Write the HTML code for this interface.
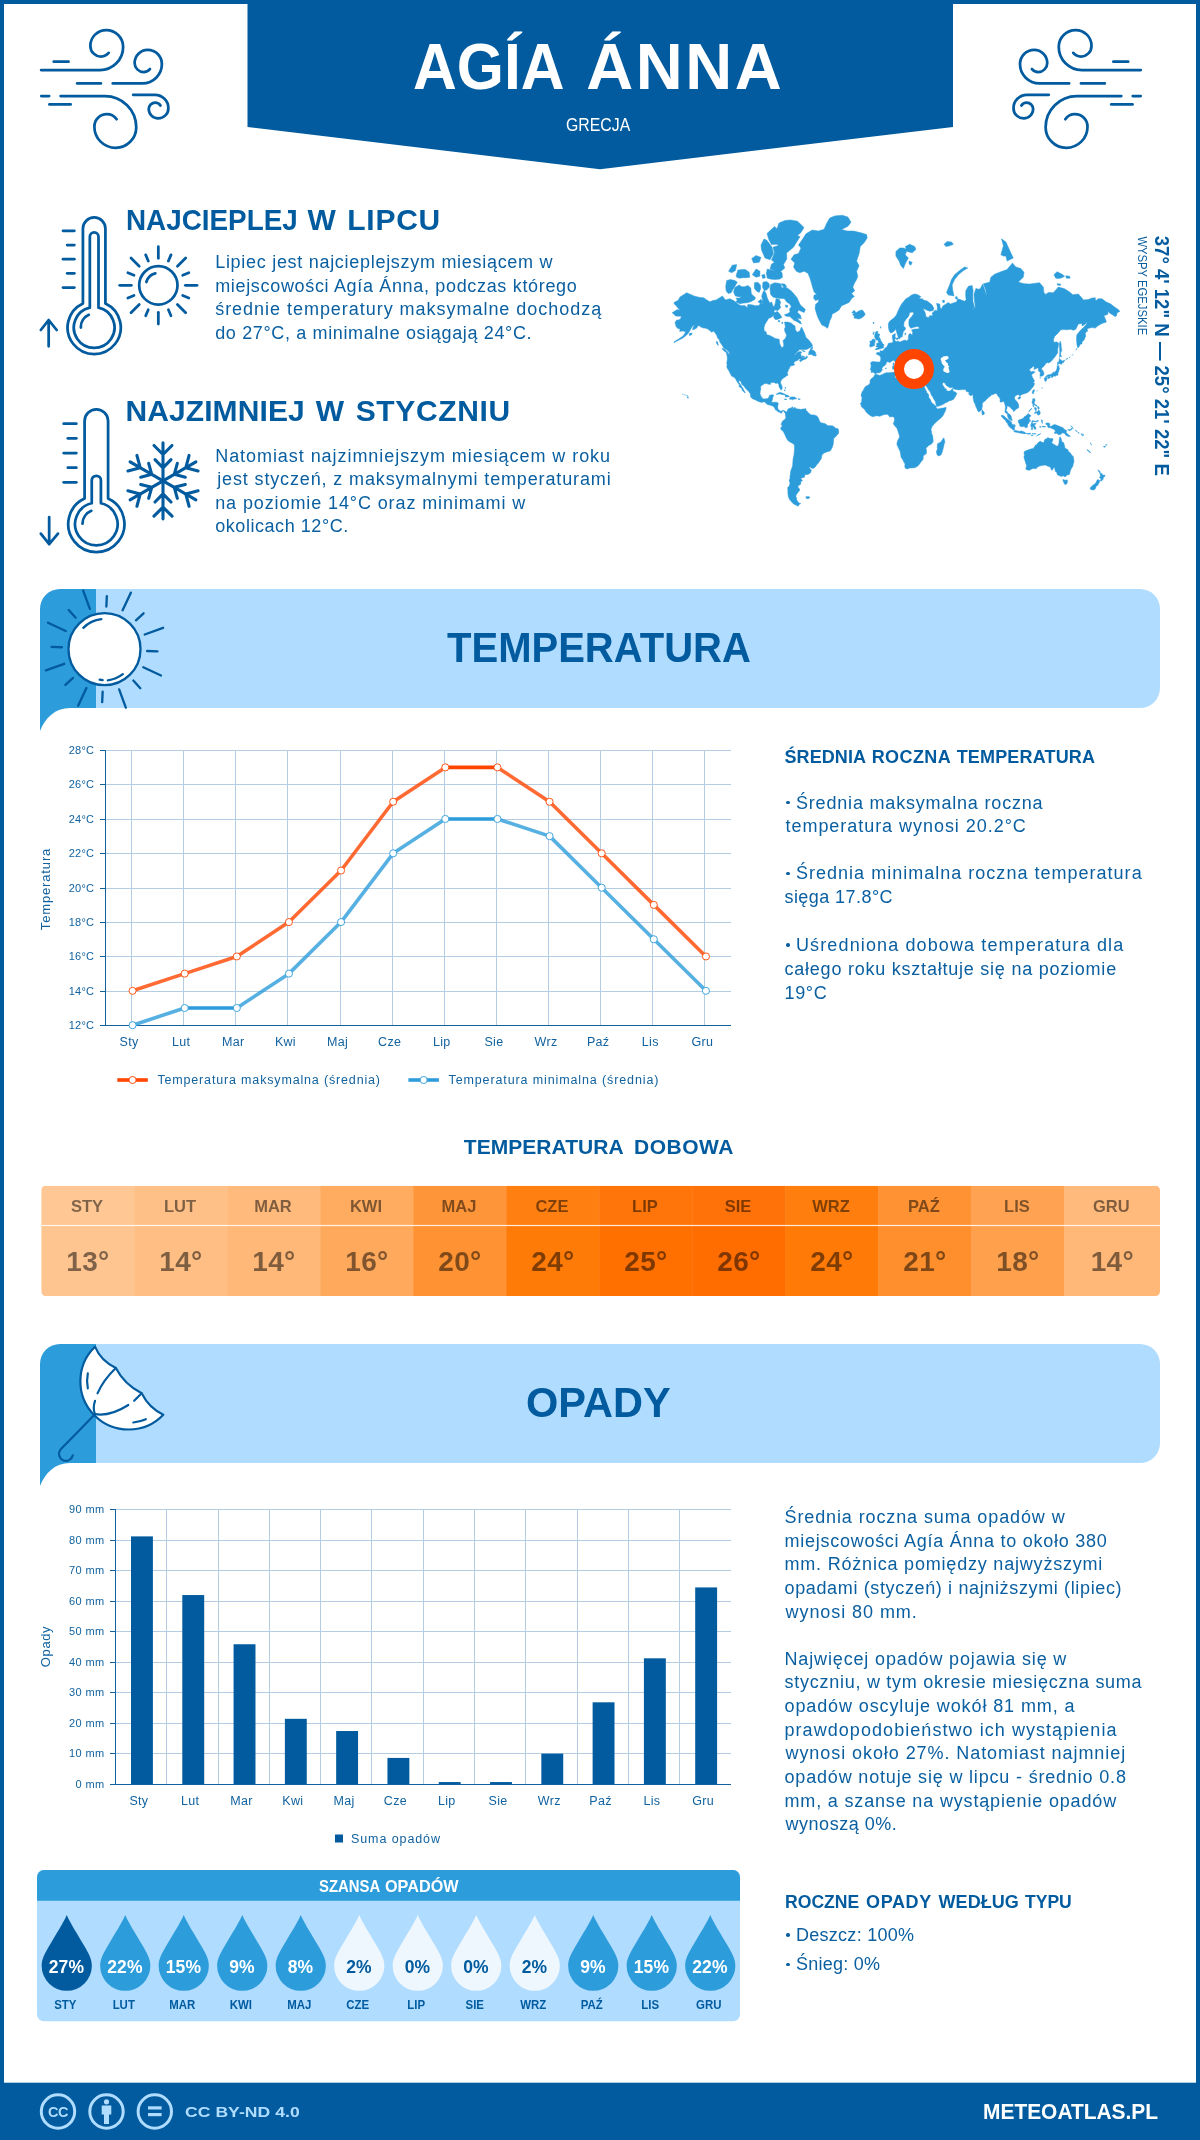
<!DOCTYPE html>
<html lang="pl"><head><meta charset="utf-8"><title>Agía Ánna – pogoda i klimat</title>
<style>
*{margin:0;padding:0;box-sizing:border-box}
html,body{width:1200px;height:2140px;background:#fff;overflow:hidden}
body{font-family:"Liberation Sans", sans-serif;position:relative}
#page{position:absolute;left:0;top:0;width:1200px;height:2140px;border:4px solid #015b9e;border-top-width:4px;overflow:hidden;background:#fff}
.abs{position:absolute}
.t{position:absolute;white-space:nowrap;line-height:1;font-family:"Liberation Sans", sans-serif}
svg{position:absolute;left:0;top:0;overflow:visible}
</style></head>
<body>
<div id="frame" style="position:absolute;left:0;top:0;width:1200px;height:2140px;overflow:hidden;will-change:transform;transform:translateZ(0)">
<svg width="1200" height="2140" viewBox="0 0 1200 2140">
<!-- page border -->
<rect x="0" y="0" width="1200" height="4" fill="#015b9e"/>
<rect x="0" y="0" width="4" height="2140" fill="#015b9e"/>
<rect x="1196" y="0" width="4" height="2140" fill="#015b9e"/>
<!-- title banner -->
<polygon points="247.5,0 953,0 953,127 600,169.2 247.5,127" fill="#015b9e"/>
<!-- temperatura header -->
<path d="M40,731 L40,609 a20,20 0 0 1 20,-20 L96,589 L96,708 L70,708 C55,708 45,718 40,731 Z" fill="#2d9cdb"/>
<path d="M96,589 L1140,589 a20,20 0 0 1 20,20 L1160,688 a20,20 0 0 1 -20,20 L96,708 Z" fill="#b0dcff"/>
<!-- opady header -->
<path d="M40,1486 L40,1364 a20,20 0 0 1 20,-20 L96,1344 L96,1463 L70,1463 C55,1463 45,1473 40,1486 Z" fill="#2d9cdb"/>
<path d="M96,1344 L1140,1344 a20,20 0 0 1 20,20 L1160,1443 a20,20 0 0 1 -20,20 L96,1463 Z" fill="#b0dcff"/>
<!-- footer -->
<rect x="0" y="2082.7" width="1200" height="58" fill="#015b9e"/>
</svg>

<svg width="1200" height="2140" viewBox="0 0 1200 2140">
<path d="M672.2,312.7 L674.9,310.9 L677.6,309.6 L680.1,310.6 L678.0,308.0 L675.5,305.1 L673.9,303.7 L674.6,302.0 L678.0,300.6 L680.0,297.0 L683.6,294.7 L686.7,292.8 L691.1,294.7 L694.9,296.3 L699.8,297.4 L703.6,297.7 L706.1,299.6 L709.8,301.7 L713.0,300.6 L716.1,299.9 L719.8,297.7 L722.3,295.9 L725.5,299.9 L729.8,298.8 L733.6,300.6 L738.6,304.4 L741.1,305.7 L744.8,305.4 L747.3,307.7 L747.9,304.4 L751.7,304.8 L755.4,305.7 L759.2,305.4 L760.4,303.1 L762.5,303.4 L762.5,299.6 L761.7,296.3 L762.9,292.4 L764.2,290.4 L766.0,293.2 L767.3,298.1 L768.5,300.6 L769.8,303.1 L771.7,302.0 L772.9,305.7 L774.2,306.7 L775.4,302.7 L776.0,298.8 L779.2,299.2 L780.7,302.4 L779.8,305.1 L780.7,307.4 L777.9,310.6 L775.4,309.9 L773.8,310.9 L774.8,313.9 L772.9,316.0 L771.0,317.4 L768.5,318.5 L766.7,321.6 L765.0,324.2 L764.0,327.6 L764.2,331.0 L766.0,331.7 L766.8,334.8 L769.2,335.2 L772.3,336.8 L775.4,338.6 L779.2,339.3 L779.5,342.9 L780.4,345.4 L781.7,347.4 L783.5,347.0 L783.8,344.0 L782.9,340.8 L785.4,338.2 L786.7,335.2 L785.0,331.7 L784.4,329.3 L785.4,326.8 L784.5,322.1 L787.9,322.1 L791.0,322.9 L793.5,325.0 L795.0,326.0 L795.4,329.8 L797.3,332.2 L799.8,331.0 L801.0,328.1 L801.6,327.0 L803.3,330.5 L804.8,334.1 L806.0,337.5 L808.5,339.7 L810.4,341.9 L812.0,344.4 L812.5,346.0 L810.8,347.2 L808.5,348.4 L806.6,349.6 L803.5,349.4 L799.8,349.6 L797.9,351.3 L795.4,353.8 L793.8,355.8 L795.4,354.5 L797.3,352.5 L799.8,351.5 L801.8,352.1 L800.6,353.8 L801.0,355.3 L801.5,356.9 L802.9,357.6 L805.4,357.8 L806.9,355.8 L807.5,357.4 L805.8,358.9 L802.9,359.9 L800.4,361.8 L799.4,360.6 L801.6,358.7 L800.4,358.9 L798.5,359.0 L798.3,359.9 L796.0,361.0 L794.4,361.8 L793.8,363.6 L794.8,364.7 L792.9,365.4 L790.4,366.1 L789.8,366.9 L789.5,368.4 L788.5,369.3 L788.2,370.9 L787.3,372.5 L787.5,374.0 L787.9,375.3 L786.4,376.0 L784.8,377.2 L783.2,378.3 L781.7,379.6 L780.7,381.5 L780.5,382.7 L781.5,385.1 L782.3,387.5 L781.9,389.6 L780.9,389.8 L780.0,388.4 L778.9,386.3 L778.8,384.4 L777.5,383.0 L775.7,383.4 L774.2,382.4 L772.0,382.6 L770.5,382.8 L770.7,384.3 L768.8,384.3 L766.7,383.6 L764.8,383.4 L763.3,384.4 L761.3,385.8 L760.5,387.0 L760.8,388.9 L760.2,391.4 L760.0,393.7 L760.8,395.7 L762.0,397.9 L763.8,399.0 L766.0,398.8 L767.9,398.5 L769.0,397.1 L769.3,395.5 L771.7,394.8 L773.7,394.9 L772.9,397.1 L772.5,399.0 L771.9,401.3 L771.2,402.3 L772.9,402.3 L775.4,402.2 L777.3,402.4 L778.3,403.3 L777.9,405.5 L777.7,407.7 L778.3,409.4 L779.8,410.8 L781.0,411.3 L782.5,410.5 L784.0,410.5 L785.5,411.5 L785.3,412.8 L784.4,412.3 L783.8,411.1 L782.8,411.1 L781.9,412.0 L782.0,412.9 L781.0,413.2 L780.0,412.3 L778.5,411.9 L777.7,411.5 L776.3,410.1 L775.2,409.7 L775.0,408.5 L774.0,407.2 L772.8,405.9 L771.7,405.7 L769.8,405.0 L767.9,404.8 L766.7,403.9 L764.8,402.1 L763.3,401.9 L761.5,402.4 L759.2,401.7 L757.3,400.9 L755.1,399.7 L752.9,398.9 L751.3,397.7 L750.3,396.3 L750.7,394.8 L749.8,393.0 L748.6,391.4 L746.7,389.6 L745.6,388.4 L744.4,386.8 L743.6,385.8 L741.9,384.6 L741.2,382.6 L740.6,381.1 L738.8,380.4 L738.9,382.3 L740.2,384.1 L741.3,385.8 L742.3,387.5 L743.3,388.9 L744.1,390.7 L745.3,392.4 L744.8,392.9 L743.8,391.7 L742.3,390.6 L741.9,388.7 L740.4,387.5 L738.8,386.3 L739.6,385.1 L738.3,383.6 L737.3,382.1 L736.4,380.4 L735.7,378.9 L734.3,377.4 L732.9,376.6 L731.6,376.2 L730.8,374.5 L729.8,372.8 L729.1,371.1 L727.7,369.0 L726.8,367.1 L727.1,364.4 L726.7,362.9 L727.3,360.1 L727.3,356.9 L726.4,353.0 L728.6,353.4 L729.2,355.1 L729.3,352.8 L728.3,351.3 L726.3,349.6 L723.8,348.2 L722.6,346.0 L721.3,344.0 L719.8,341.9 L719.2,339.7 L717.6,337.9 L716.7,335.2 L715.1,332.9 L713.6,331.0 L711.7,332.2 L709.8,330.5 L707.3,328.8 L704.8,328.1 L702.3,327.8 L699.8,326.3 L698.0,325.5 L696.7,328.1 L694.9,329.0 L692.6,330.0 L693.1,327.3 L694.9,325.0 L692.6,326.0 L691.1,328.6 L689.6,331.0 L688.0,333.6 L685.5,335.9 L683.0,337.9 L680.5,339.3 L678.2,340.4 L676.0,341.4 L674.1,342.7 L673.9,342.1 L676.1,340.4 L678.0,339.5 L680.5,337.7 L682.4,336.4 L684.2,334.5 L685.7,331.5 L683.9,331.2 L681.7,331.0 L679.7,331.5 L680.1,329.0 L678.0,328.6 L676.1,326.8 L675.6,324.2 L674.9,322.9 L676.4,320.2 L678.6,319.9 L680.7,318.8 L681.2,316.0 L678.9,316.2 L675.6,316.0 L673.9,314.2Z M785.5,411.5 L786.3,412.3 L787.5,410.5 L787.9,409.1 L789.1,408.5 L791.0,408.0 L792.6,406.7 L793.1,407.7 L792.4,408.7 L793.0,408.6 L794.5,407.8 L794.9,407.1 L795.1,407.8 L796.9,408.9 L798.8,409.0 L801.0,409.6 L802.5,409.0 L804.8,408.9 L805.8,410.1 L807.3,411.6 L809.1,413.5 L811.0,414.9 L813.5,414.9 L816.0,415.4 L817.8,416.9 L819.1,419.8 L819.8,421.7 L821.6,422.9 L823.5,423.2 L826.0,424.1 L827.2,425.5 L829.7,425.7 L832.2,425.8 L834.1,426.8 L835.7,428.2 L838.1,428.8 L838.7,431.2 L838.5,433.4 L836.9,435.2 L835.4,437.1 L833.7,438.6 L833.5,441.5 L833.2,444.5 L832.4,446.9 L831.2,449.4 L829.7,451.3 L827.9,451.4 L826.0,452.2 L824.1,453.0 L822.0,454.8 L821.5,456.9 L821.2,459.0 L819.8,460.8 L818.5,462.9 L817.0,464.5 L815.4,466.7 L813.8,468.3 L811.9,468.2 L809.8,466.9 L809.3,467.8 L810.8,469.4 L811.3,470.6 L810.3,473.1 L807.9,474.4 L804.8,474.7 L804.4,477.3 L801.6,477.9 L801.0,477.6 L801.3,479.6 L802.6,480.4 L801.0,481.6 L800.5,484.4 L798.8,485.3 L797.8,486.9 L799.1,488.5 L799.9,490.0 L797.9,492.6 L796.4,494.5 L795.8,496.3 L796.8,498.5 L796.5,499.6 L797.3,500.8 L798.8,503.0 L800.8,503.6 L799.1,504.5 L798.1,506.2 L795.8,505.1 L793.3,503.8 L791.3,501.6 L789.5,499.5 L788.3,496.5 L787.9,492.9 L787.8,489.2 L787.8,487.5 L789.4,485.7 L790.0,482.9 L789.5,481.5 L790.0,479.2 L790.0,476.2 L790.4,473.8 L790.6,471.5 L791.5,469.1 L792.6,465.8 L792.9,461.6 L793.1,458.8 L793.9,455.3 L794.3,452.0 L794.5,447.8 L794.4,445.0 L792.9,443.5 L790.4,442.2 L788.3,440.9 L786.9,439.1 L785.9,436.9 L784.8,434.6 L783.7,432.3 L782.4,430.6 L780.9,429.5 L780.7,427.9 L781.8,426.5 L782.4,425.3 L781.2,424.9 L781.3,423.5 L782.2,422.1 L782.5,421.1 L783.8,420.2 L785.2,419.1 L785.9,417.4 L785.4,415.4 L785.5,413.9 L784.9,413.3Z M827.4,328.3 L824.7,326.3 L821.9,325.0 L820.2,322.1 L818.5,318.8 L817.4,316.2 L816.3,312.7 L815.1,308.7 L815.5,304.4 L818.3,302.0 L818.8,299.6 L815.4,300.6 L813.6,298.1 L814.1,295.1 L816.9,294.4 L814.1,292.0 L812.8,288.0 L811.6,283.7 L810.0,278.2 L807.9,273.2 L804.1,271.2 L799.8,272.7 L796.3,271.2 L793.5,266.9 L794.8,262.9 L791.0,259.3 L794.1,254.8 L798.5,253.5 L801.0,248.0 L798.5,245.0 L802.3,239.6 L806.0,233.7 L812.3,230.1 L818.5,231.0 L824.1,229.2 L826.6,223.4 L829.7,218.1 L834.7,215.9 L842.2,215.3 L847.9,217.0 L851.0,222.3 L847.9,226.3 L841.6,229.6 L847.2,231.0 L853.5,231.0 L861.0,232.8 L866.6,234.6 L867.2,237.9 L864.1,242.7 L860.3,246.5 L859.1,253.5 L856.6,261.1 L859.1,265.7 L856.6,271.2 L857.8,276.2 L856.6,279.6 L854.7,282.8 L852.8,287.1 L854.7,290.8 L851.6,293.6 L854.3,296.6 L851.6,298.5 L849.1,302.4 L844.7,304.4 L841.6,305.7 L839.1,309.9 L835.4,312.4 L832.2,313.9 L831.5,317.4 L830.0,320.2 L828.9,324.2 L828.2,326.8Z M851.8,312.7 L854.1,310.2 L856.0,312.7 L859.7,310.6 L862.2,309.9 L864.0,312.1 L865.2,314.5 L863.5,316.5 L861.0,318.2 L858.7,319.1 L856.6,318.5 L853.8,318.0 L854.7,316.2 L852.5,314.8 L854.3,313.6Z M801.4,324.0 L799.1,322.9 L796.3,321.3 L794.1,320.5 L792.3,318.8 L789.8,316.5 L786.0,316.2 L784.4,314.8 L787.9,313.6 L790.0,312.1 L789.5,309.0 L791.3,306.7 L789.8,304.1 L786.7,302.0 L784.2,298.5 L781.0,298.5 L776.3,298.1 L772.9,297.0 L770.7,294.4 L770.0,289.2 L770.7,284.5 L774.8,282.8 L778.5,283.2 L781.0,284.1 L781.7,288.0 L784.8,286.7 L787.9,288.4 L791.6,291.2 L794.8,295.1 L797.3,298.1 L798.5,301.0 L800.4,305.1 L803.5,307.7 L805.4,309.6 L804.1,312.4 L801.6,311.5 L798.5,309.9 L797.5,312.4 L800.4,315.1 L801.3,318.8 L799.1,318.5 L797.3,318.0 L799.1,320.5 L800.6,321.6Z M735.7,301.7 L739.8,303.7 L743.6,303.1 L747.3,302.7 L750.7,301.7 L754.8,299.6 L755.4,297.4 L752.9,295.5 L751.3,293.6 L750.8,288.0 L747.9,285.4 L744.8,286.7 L741.7,286.7 L739.2,285.0 L734.8,287.5 L733.6,292.0 L735.3,295.9 L739.8,297.0 L741.7,296.6 L739.8,298.1 L736.1,298.1 L737.3,300.3Z M726.1,290.8 L728.2,293.6 L731.1,292.8 L732.9,289.6 L735.4,285.4 L737.3,282.3 L734.8,280.5 L730.4,279.6 L726.7,280.5 L725.7,286.3Z M736.1,275.7 L737.9,270.1 L742.3,269.6 L745.4,269.6 L749.2,272.2 L749.8,277.2 L746.1,277.7 L742.9,277.7 L739.8,278.2 L736.7,277.2Z M754.4,282.8 L757.9,282.3 L760.4,285.0 L760.8,288.4 L759.2,292.4 L756.7,291.2 L754.4,288.4Z M762.9,282.3 L766.7,281.4 L769.2,283.7 L769.4,287.1 L766.7,290.0 L764.2,290.4 L762.5,287.1Z M767.3,269.0 L771.0,270.1 L774.8,270.6 L778.5,269.6 L782.0,272.7 L782.5,277.2 L779.8,279.1 L774.8,279.6 L770.4,279.1 L767.3,278.2 L766.3,273.2Z M773.5,317.1 L774.8,312.4 L777.3,311.5 L779.8,313.9 L781.9,317.4 L779.8,318.5 L777.3,319.4 L775.2,319.4Z M757.9,301.7 L761.0,299.2 L762.9,302.0 L760.4,303.4Z M752.3,274.7 L756.1,269.0 L760.0,271.2 L759.8,276.2 L756.1,277.2Z M761.7,275.2 L764.5,274.2 L765.4,277.7 L762.9,278.6Z M728.6,271.2 L732.3,265.2 L736.7,264.6 L735.4,270.6 L731.7,272.7Z M751.7,258.6 L756.1,255.5 L761.0,257.4 L759.2,262.3 L753.6,262.9Z M781.3,283.7 L784.8,284.1 L786.7,286.7 L783.5,287.1Z M785.4,305.1 L787.9,305.4 L787.3,307.4 L785.7,307.1Z M778.2,320.5 L780.0,320.7 L779.4,322.1 L778.3,321.8Z M781.9,322.1 L782.9,322.4 L782.5,324.0 L781.9,323.4Z M808.1,354.5 L809.3,352.8 L808.5,352.3 L809.8,350.7 L810.6,348.8 L811.4,347.4 L812.9,346.8 L812.3,348.8 L811.3,350.6 L812.6,350.0 L814.5,350.9 L815.4,352.5 L816.0,352.7 L815.0,354.0 L816.4,354.5 L815.8,356.2 L814.5,355.6 L812.9,355.8 L812.3,354.5 L810.4,354.5Z M801.8,350.2 L804.8,351.1 L805.0,351.7 L802.9,351.3Z M801.9,355.8 L804.5,356.5 L804.1,357.3 L802.3,356.7Z M776.2,394.3 L778.2,392.9 L779.8,392.5 L781.7,392.8 L783.5,393.6 L785.4,394.4 L787.5,395.3 L789.5,396.4 L788.5,396.9 L785.2,396.9 L785.8,396.0 L784.2,394.8 L781.9,394.4 L780.0,393.9 L778.5,393.9 L777.3,394.4Z M789.3,398.9 L790.5,397.1 L792.3,396.9 L794.5,397.1 L795.8,397.9 L796.8,398.6 L795.3,398.9 L793.5,399.2 L792.6,399.8 L791.5,399.2 L790.0,399.3Z M784.4,398.9 L786.0,398.9 L786.9,399.4 L786.0,399.7 L784.5,399.4Z M798.3,398.8 L800.3,398.9 L800.0,399.4 L798.3,399.4Z M784.5,389.8 L785.2,389.9 L785.0,391.1 L784.4,390.7Z M785.0,387.4 L786.0,387.8 L785.8,388.4 L784.8,387.8Z M805.0,408.7 L806.0,408.7 L806.0,409.6 L805.0,409.6Z M722.0,348.4 L724.8,349.2 L726.3,350.7 L727.9,352.3 L728.1,353.0 L726.6,352.8 L724.8,351.5 L722.6,349.6Z M716.1,341.6 L717.7,341.9 L718.3,345.4 L717.0,344.2Z M689.1,333.6 L692.0,332.9 L691.9,334.5 L689.6,335.7Z M687.5,396.4 L688.6,397.1 L687.9,398.3 L687.2,397.2Z M686.5,395.5 L687.4,395.6 L686.9,396.1Z M684.5,394.7 L685.4,394.9 L684.9,395.2Z M682.6,393.9 L683.2,393.9 L683.0,394.4Z M805.8,496.8 L808.5,496.6 L810.0,497.2 L808.8,498.6 L806.3,498.4Z M870.3,369.8 L871.2,366.1 L870.6,362.7 L872.2,361.5 L875.3,361.8 L877.8,362.0 L880.0,362.0 L880.7,360.1 L880.8,357.8 L879.5,355.6 L876.6,354.2 L876.2,353.0 L878.5,352.3 L880.2,352.7 L880.0,350.6 L881.0,351.1 L882.4,350.9 L884.1,349.6 L885.3,347.8 L886.6,347.2 L887.8,345.0 L888.4,343.3 L890.9,342.9 L892.8,342.5 L893.1,340.8 L892.4,338.6 L892.4,335.2 L895.3,333.6 L895.1,336.4 L895.7,338.6 L894.4,339.7 L895.7,341.2 L895.9,341.9 L897.8,341.0 L899.9,342.1 L902.8,340.8 L905.3,340.1 L906.6,341.0 L908.4,339.3 L908.4,336.4 L909.1,334.1 L910.3,333.6 L912.2,335.2 L912.7,332.4 L911.6,330.0 L914.7,329.0 L917.2,329.0 L919.9,328.3 L917.8,326.5 L914.7,327.0 L910.9,328.3 L909.1,326.0 L908.8,322.9 L909.1,319.6 L912.2,316.0 L913.8,313.6 L912.8,312.1 L909.7,312.4 L908.8,316.0 L905.9,319.4 L904.1,322.1 L903.7,325.5 L904.1,326.8 L905.7,328.1 L904.9,330.0 L903.2,331.7 L902.8,334.1 L902.2,336.8 L900.3,337.5 L899.9,338.8 L898.4,338.8 L898.2,337.0 L897.2,334.1 L896.2,330.5 L895.4,328.6 L895.1,330.3 L894.1,331.0 L892.2,332.7 L890.3,332.7 L889.1,330.5 L888.4,327.0 L888.4,323.4 L889.7,321.3 L892.8,318.8 L895.3,316.5 L896.6,314.5 L897.8,311.5 L899.7,307.4 L901.6,304.1 L904.1,301.0 L905.9,298.8 L908.4,297.4 L911.6,295.1 L914.4,294.0 L917.2,294.4 L920.9,296.6 L919.0,298.8 L922.2,298.8 L924.0,300.3 L927.2,301.0 L932.2,305.1 L933.8,308.3 L933.2,310.6 L929.7,311.2 L925.3,309.6 L922.8,308.0 L925.3,313.0 L925.9,316.5 L928.4,317.7 L929.7,315.7 L932.8,315.7 L932.2,313.0 L935.3,310.2 L937.2,310.9 L937.4,306.7 L936.5,303.4 L939.7,304.1 L940.3,308.3 L941.5,308.7 L942.8,306.1 L948.4,302.4 L950.3,304.1 L954.0,302.7 L956.5,302.0 L957.8,298.8 L962.1,300.3 L964.6,301.3 L966.1,299.6 L965.6,295.1 L965.9,290.4 L968.4,286.3 L972.1,285.4 L973.1,290.4 L972.8,295.1 L973.0,301.7 L974.4,306.7 L972.4,309.9 L975.3,306.7 L974.6,301.7 L974.0,294.4 L975.9,288.4 L978.4,289.2 L980.2,288.8 L982.7,284.1 L985.2,291.2 L986.5,296.3 L985.9,290.4 L983.4,283.7 L989.6,282.3 L990.9,277.2 L994.6,274.2 L1000.9,271.7 L1007.1,269.6 L1012.5,262.9 L1015.8,266.9 L1020.8,268.5 L1024.0,272.2 L1023.3,277.2 L1018.3,281.9 L1022.1,283.2 L1024.6,283.7 L1029.6,284.1 L1035.8,283.2 L1039.6,282.8 L1043.3,287.1 L1043.9,292.4 L1045.8,294.4 L1048.3,292.4 L1053.3,292.8 L1057.1,288.4 L1058.3,287.1 L1064.6,288.8 L1069.6,292.0 L1072.7,294.7 L1078.3,294.0 L1082.0,298.1 L1083.3,299.9 L1088.3,299.6 L1092.0,298.1 L1095.2,297.7 L1095.8,301.7 L1094.5,301.7 L1098.3,298.8 L1102.0,298.8 L1105.8,301.7 L1110.8,304.1 L1114.5,307.1 L1117.6,309.0 L1119.9,311.2 L1117.0,313.0 L1116.4,316.0 L1115.1,316.5 L1112.0,314.5 L1109.5,313.0 L1108.3,311.5 L1107.6,314.5 L1105.8,315.1 L1103.9,315.4 L1105.8,320.2 L1106.3,322.1 L1102.0,323.4 L1098.3,325.5 L1095.2,328.1 L1092.0,327.6 L1089.5,328.1 L1087.7,328.6 L1086.4,331.7 L1085.2,333.4 L1085.8,336.4 L1085.2,337.0 L1084.3,339.7 L1082.0,341.9 L1082.0,344.0 L1080.4,344.0 L1079.5,346.0 L1077.9,348.0 L1077.0,345.0 L1076.5,339.7 L1076.7,335.2 L1078.3,332.9 L1081.4,329.3 L1083.9,327.3 L1086.4,324.2 L1087.0,321.6 L1085.2,324.2 L1082.0,326.0 L1082.0,323.4 L1078.3,324.0 L1075.8,329.3 L1073.3,330.3 L1070.8,329.3 L1067.1,329.8 L1063.9,329.5 L1060.8,329.8 L1057.7,333.4 L1054.6,336.4 L1053.3,340.1 L1053.9,342.3 L1057.1,341.9 L1058.7,343.3 L1058.3,346.0 L1057.7,349.0 L1057.7,352.8 L1055.2,356.5 L1052.7,359.6 L1050.8,361.8 L1048.3,363.0 L1047.1,362.5 L1045.4,363.9 L1044.2,366.1 L1042.1,367.7 L1041.4,368.8 L1042.7,370.4 L1043.8,372.5 L1043.8,374.8 L1043.3,375.4 L1041.4,376.2 L1039.9,376.3 L1040.2,374.0 L1040.3,372.2 L1038.3,370.9 L1038.6,368.5 L1037.5,367.9 L1034.6,369.3 L1034.0,369.6 L1034.3,366.9 L1033.3,366.2 L1031.5,368.0 L1029.3,369.3 L1030.2,370.9 L1030.8,372.0 L1033.1,371.2 L1035.2,372.0 L1033.3,373.3 L1031.5,375.1 L1032.7,377.8 L1034.3,380.4 L1034.3,381.7 L1032.7,382.6 L1034.6,383.3 L1034.0,385.4 L1032.1,388.0 L1030.8,389.6 L1029.6,390.9 L1027.7,392.5 L1025.0,393.6 L1023.3,394.1 L1020.8,394.9 L1020.0,396.4 L1019.3,394.9 L1017.5,394.7 L1015.8,395.5 L1014.3,397.7 L1015.2,399.7 L1017.3,402.1 L1018.6,404.6 L1018.8,407.2 L1018.1,408.2 L1015.8,409.2 L1015.2,410.4 L1013.3,411.5 L1013.1,409.7 L1011.5,409.0 L1010.2,407.2 L1008.3,406.3 L1008.1,405.4 L1007.1,406.6 L1006.9,408.5 L1006.1,410.6 L1007.1,411.6 L1007.7,413.3 L1009.0,413.8 L1010.2,414.8 L1011.3,416.3 L1011.3,417.9 L1012.3,420.4 L1011.2,420.6 L1008.7,418.8 L1007.7,416.7 L1007.5,414.5 L1006.5,413.2 L1005.0,412.3 L1005.2,410.0 L1005.4,407.5 L1005.2,405.3 L1004.4,403.1 L1004.0,401.4 L1002.7,401.4 L1001.2,402.3 L1000.0,401.8 L1000.2,399.4 L999.4,397.5 L997.7,395.7 L996.9,393.7 L995.2,393.4 L993.4,394.4 L991.5,394.8 L990.6,396.1 L988.6,397.3 L986.5,399.4 L985.0,401.1 L983.1,402.3 L982.2,404.0 L982.5,405.9 L981.9,407.8 L981.9,409.4 L980.9,410.6 L979.9,411.3 L979.0,412.1 L977.7,411.0 L977.1,409.1 L975.9,406.8 L975.3,404.6 L974.0,402.1 L973.4,399.4 L973.1,398.1 L973.0,395.5 L972.8,393.9 L972.1,395.2 L970.3,395.7 L968.4,393.7 L970.0,392.9 L968.1,392.1 L966.5,391.4 L965.9,390.3 L965.3,389.5 L962.1,389.6 L959.0,389.9 L955.9,389.5 L953.6,388.9 L952.8,387.3 L950.3,387.8 L947.8,386.6 L945.9,385.1 L944.9,383.0 L943.4,382.4 L942.8,383.0 L942.2,384.0 L943.2,385.8 L944.7,387.7 L944.9,389.3 L946.1,388.5 L946.6,390.3 L946.5,391.0 L948.4,391.1 L950.3,391.0 L952.1,388.9 L952.6,388.2 L952.8,390.3 L954.0,391.7 L955.4,392.0 L956.9,393.4 L955.6,396.1 L954.4,398.1 L953.4,399.4 L951.1,400.4 L949.6,400.7 L947.4,402.1 L944.7,403.3 L942.8,404.6 L940.3,405.4 L938.4,406.2 L936.5,406.3 L936.2,405.3 L935.7,403.3 L935.4,401.4 L934.0,399.4 L932.8,397.1 L931.2,394.8 L930.3,392.1 L928.7,390.0 L927.2,387.5 L925.9,385.8 L925.7,383.7 L925.2,385.8 L924.9,386.3 L923.8,385.1 L922.9,383.1 L922.5,381.2 L924.9,381.1 L925.7,379.3 L926.5,377.2 L927.0,374.8 L927.3,373.1 L925.9,373.1 L924.7,373.6 L922.8,373.9 L920.4,372.8 L919.0,373.7 L917.2,373.0 L916.3,372.5 L916.2,370.9 L915.3,370.1 L915.7,368.8 L914.9,368.0 L914.9,367.2 L915.9,366.9 L918.4,366.9 L918.4,365.9 L916.5,366.1 L915.7,366.7 L914.7,366.4 L912.8,366.2 L911.9,367.4 L910.8,366.9 L910.6,368.5 L911.3,369.3 L912.2,370.9 L912.2,371.4 L910.9,371.1 L911.2,372.0 L911.1,373.3 L910.2,373.3 L909.3,372.8 L908.8,371.2 L909.4,370.4 L908.4,370.1 L907.8,368.5 L906.9,367.4 L906.4,366.9 L906.6,364.9 L905.7,363.9 L904.1,362.7 L902.2,361.8 L901.2,360.5 L900.3,358.9 L899.4,359.4 L899.2,358.0 L897.8,358.5 L897.7,360.5 L899.1,361.7 L899.9,363.7 L902.2,364.6 L902.8,365.7 L905.2,367.4 L904.7,367.9 L903.4,366.9 L902.8,368.4 L903.6,369.3 L902.8,370.3 L901.8,371.1 L902.2,369.6 L901.8,367.7 L900.3,366.7 L898.4,365.6 L897.4,364.7 L895.9,363.7 L895.2,362.2 L894.7,361.0 L893.3,360.3 L891.6,361.3 L889.9,362.5 L888.4,362.0 L887.2,361.8 L886.2,362.7 L886.2,363.9 L884.9,365.4 L883.2,366.4 L881.8,368.5 L882.4,369.6 L881.3,371.6 L879.5,372.8 L876.7,373.0 L875.5,373.9 L874.3,373.1 L873.0,372.2 L871.1,372.5 L871.2,370.3Z M874.8,374.4 L875.6,374.2 L878.5,375.1 L879.7,375.4 L882.2,374.4 L885.9,372.8 L888.4,372.8 L891.6,372.5 L894.4,372.0 L895.9,372.5 L895.3,373.6 L895.7,375.6 L894.9,376.6 L894.8,377.2 L896.1,378.3 L898.7,378.7 L901.2,379.5 L901.6,380.8 L904.1,381.7 L905.9,382.6 L907.2,381.5 L907.2,379.8 L909.1,378.7 L910.9,379.0 L913.4,380.5 L916.5,381.1 L918.4,381.7 L919.7,381.1 L920.9,380.7 L922.5,381.2 L922.9,383.1 L923.2,385.1 L924.4,386.8 L925.3,389.3 L926.5,391.4 L926.8,392.8 L928.3,394.1 L928.8,395.7 L928.7,397.3 L930.3,399.4 L931.5,402.6 L933.4,403.9 L935.3,405.7 L936.3,406.6 L936.2,407.7 L937.8,409.1 L940.9,408.2 L943.4,408.1 L946.1,407.3 L946.0,409.1 L945.3,411.0 L944.0,413.5 L942.8,416.0 L940.3,418.6 L938.8,419.8 L936.5,421.7 L934.7,423.6 L933.4,424.9 L932.4,426.1 L931.7,427.5 L930.9,430.0 L931.5,431.3 L931.5,433.2 L932.7,435.8 L932.9,438.4 L933.2,441.0 L932.8,442.3 L931.5,444.0 L929.0,445.3 L927.8,446.6 L925.9,447.9 L926.3,449.5 L926.5,451.5 L926.4,453.6 L924.0,455.2 L923.2,456.3 L923.2,458.4 L922.5,460.2 L920.9,461.9 L919.7,463.8 L917.8,466.0 L915.9,467.2 L914.3,467.8 L911.6,467.9 L909.7,468.0 L907.2,468.9 L905.3,468.2 L904.7,465.9 L905.1,464.0 L903.7,461.8 L902.8,459.8 L901.2,457.5 L900.7,454.7 L900.3,451.9 L899.1,449.3 L897.8,446.6 L896.9,444.4 L897.2,442.0 L898.2,439.5 L899.4,437.5 L899.4,435.6 L898.7,433.4 L897.6,430.0 L896.9,428.3 L895.9,427.1 L894.4,425.4 L893.2,423.3 L894.1,422.1 L894.4,420.4 L894.4,418.6 L894.1,417.4 L893.2,416.7 L890.9,416.8 L889.7,416.9 L888.4,415.0 L887.2,414.3 L885.3,414.4 L883.4,414.8 L881.0,415.8 L879.7,416.3 L877.8,415.9 L876.0,415.8 L872.8,416.8 L871.0,416.0 L868.7,414.4 L867.2,412.9 L865.7,411.6 L865.3,410.4 L864.1,409.1 L863.5,408.5 L862.2,407.5 L861.3,406.6 L861.2,405.3 L860.3,403.7 L861.6,402.1 L861.8,399.4 L862.0,397.5 L861.0,395.5 L861.6,393.4 L862.2,391.7 L863.5,390.0 L864.1,388.4 L865.7,386.3 L867.2,385.7 L869.1,384.4 L870.1,383.0 L870.0,380.8 L870.7,379.3 L872.2,378.0 L873.7,377.1 L874.5,375.3Z M875.1,349.8 L877.8,349.4 L881.0,348.6 L883.8,347.8 L883.2,347.0 L884.2,344.8 L882.6,344.0 L882.2,342.7 L880.7,340.6 L880.2,338.6 L879.5,337.5 L878.5,337.5 L879.1,336.4 L879.7,334.1 L877.2,333.6 L878.2,331.7 L876.0,331.5 L875.0,334.1 L874.5,336.4 L875.3,338.6 L876.2,340.1 L877.8,339.9 L878.5,341.9 L878.2,343.3 L876.6,343.3 L876.8,345.4 L875.7,346.4 L878.2,347.2 L878.5,347.6 L876.6,348.0Z M874.5,345.6 L874.7,343.3 L875.3,340.8 L874.5,339.3 L872.8,339.0 L871.6,340.8 L869.7,341.4 L870.3,343.3 L869.5,346.0 L870.3,347.0 L872.2,346.6Z M897.8,370.9 L901.7,370.6 L901.2,373.0 L897.8,371.6Z M892.4,366.2 L894.3,365.7 L894.2,369.0 L892.8,369.3Z M892.9,363.6 L894.1,362.7 L894.1,365.2 L893.2,365.1Z M911.6,374.8 L915.0,375.3 L912.8,375.6Z M922.5,375.6 L925.4,374.7 L924.5,375.6 L923.4,376.2Z M896.2,338.2 L897.9,337.7 L897.4,339.7 L896.2,339.3Z M904.9,333.1 L905.9,333.4 L905.1,335.2Z M943.8,437.8 L945.0,442.2 L944.4,443.1 L944.0,445.0 L943.4,447.6 L942.5,451.0 L941.2,454.8 L938.7,455.9 L937.2,455.0 L936.3,451.6 L937.5,448.9 L937.2,446.9 L937.5,443.7 L939.0,442.9 L940.9,442.0 L942.2,439.8Z M1060.2,436.8 L1061.4,439.2 L1061.8,441.7 L1063.7,442.7 L1064.6,446.0 L1064.9,448.0 L1067.7,449.6 L1068.9,452.0 L1070.5,453.1 L1071.4,454.7 L1073.4,456.8 L1073.7,459.6 L1074.0,461.2 L1073.3,463.9 L1072.7,466.5 L1071.2,468.7 L1070.2,471.3 L1069.4,474.4 L1067.1,475.0 L1065.1,476.9 L1063.3,475.8 L1061.4,476.4 L1058.9,475.6 L1057.4,474.8 L1056.6,472.0 L1055.2,471.3 L1055.1,470.1 L1054.3,466.8 L1053.3,468.6 L1052.1,470.2 L1051.4,469.9 L1050.6,467.8 L1049.6,466.8 L1047.1,465.9 L1045.8,465.1 L1043.3,465.2 L1039.6,466.1 L1037.1,467.3 L1036.5,468.6 L1034.5,468.6 L1032.1,468.7 L1029.6,470.2 L1027.1,469.9 L1025.8,469.1 L1026.0,467.9 L1026.7,465.7 L1025.8,463.5 L1024.8,459.9 L1024.0,457.8 L1024.0,456.4 L1024.6,455.0 L1024.0,453.7 L1024.3,451.6 L1026.5,450.6 L1028.3,449.8 L1030.8,449.0 L1033.3,448.4 L1034.8,446.4 L1035.2,445.1 L1036.5,445.5 L1036.8,444.1 L1038.3,442.5 L1040.2,441.2 L1042.1,442.3 L1043.9,442.6 L1044.6,439.8 L1045.6,439.0 L1047.1,438.5 L1047.7,437.5 L1049.6,438.5 L1051.4,438.5 L1053.1,438.8 L1052.7,440.6 L1051.8,442.6 L1052.7,443.7 L1054.6,444.7 L1056.4,445.9 L1058.1,445.9 L1058.9,443.3 L1059.2,440.6 L1059.3,439.2 L1059.7,437.2Z M1062.9,479.5 L1065.2,480.2 L1067.4,479.9 L1067.4,482.0 L1066.9,483.7 L1065.6,484.4 L1064.6,484.2 L1063.6,482.0 L1062.9,480.3Z M1097.9,469.9 L1099.9,471.2 L1100.5,473.6 L1101.8,473.4 L1102.3,474.8 L1103.9,475.3 L1105.1,475.0 L1104.5,476.8 L1103.3,477.5 L1103.1,479.2 L1101.5,481.1 L1100.5,480.8 L1101.0,479.2 L1100.2,478.0 L1099.3,477.5 L1100.3,476.7 L1100.4,475.1 L1099.8,473.1 L1098.5,471.1Z M1097.9,479.5 L1099.8,480.6 L1099.8,481.6 L1098.9,483.0 L1098.0,484.5 L1098.4,485.0 L1096.2,485.9 L1095.5,488.5 L1093.9,490.0 L1092.4,489.9 L1090.4,489.2 L1090.2,487.9 L1091.8,486.2 L1093.0,485.2 L1095.2,483.6 L1096.2,482.3 L1097.0,480.3Z M1045.8,423.4 L1047.7,422.8 L1049.6,423.4 L1049.8,425.6 L1050.8,426.7 L1052.7,425.3 L1054.6,424.4 L1058.3,425.8 L1060.8,426.9 L1062.7,427.4 L1064.3,429.3 L1066.4,430.4 L1066.8,431.4 L1065.8,431.8 L1067.1,433.4 L1068.9,435.2 L1070.4,436.3 L1068.9,436.4 L1066.4,435.8 L1064.6,433.4 L1062.7,432.7 L1061.4,433.8 L1060.2,434.7 L1058.3,434.6 L1056.4,433.3 L1054.8,433.6 L1054.3,432.1 L1055.6,431.4 L1054.6,429.7 L1052.1,428.5 L1049.6,427.5 L1048.3,427.7 L1048.1,426.7 L1047.1,426.0 L1049.3,425.4 L1047.4,425.2 L1045.8,424.2Z M1018.3,420.4 L1019.2,419.8 L1021.2,419.2 L1023.3,418.2 L1024.6,416.5 L1025.8,416.0 L1027.3,414.5 L1028.1,413.5 L1029.2,414.4 L1031.1,415.7 L1030.0,416.8 L1029.0,417.9 L1029.6,419.6 L1030.8,421.1 L1029.3,421.3 L1029.0,423.0 L1027.7,424.3 L1027.5,426.3 L1027.1,427.6 L1025.2,427.7 L1025.2,426.8 L1023.3,426.5 L1021.7,426.8 L1019.8,426.1 L1019.6,424.3 L1018.6,422.7 L1018.3,421.3Z M1001.2,415.3 L1004.0,415.8 L1005.0,417.0 L1006.9,418.6 L1008.1,419.6 L1009.6,420.4 L1011.5,422.3 L1011.8,423.6 L1012.7,424.7 L1014.6,426.0 L1014.6,426.9 L1014.3,430.0 L1012.8,430.0 L1012.5,428.9 L1010.0,427.6 L1008.3,425.6 L1007.6,423.6 L1006.1,421.9 L1005.5,420.2 L1004.0,419.2 L1002.4,417.6 L1001.2,416.0Z M1013.6,431.3 L1014.8,430.2 L1017.7,431.0 L1020.2,431.5 L1020.8,430.8 L1023.0,431.5 L1025.2,432.5 L1025.2,433.9 L1022.7,433.5 L1019.6,432.9 L1017.7,432.6 L1015.2,432.1Z M1032.1,420.7 L1033.3,420.8 L1035.8,421.2 L1038.1,420.2 L1038.6,420.6 L1037.5,421.8 L1035.8,421.7 L1034.0,421.7 L1032.5,421.7 L1032.1,423.4 L1033.6,423.6 L1036.2,423.4 L1035.6,424.3 L1034.2,424.8 L1035.2,426.7 L1036.1,428.3 L1035.3,429.6 L1034.1,428.7 L1033.3,426.3 L1032.6,426.3 L1032.6,429.6 L1031.3,429.5 L1031.6,427.0 L1030.6,425.9 L1031.2,424.0 L1031.8,422.6 L1031.8,421.4Z M1032.8,398.8 L1034.8,398.8 L1035.0,400.7 L1034.1,402.3 L1034.6,404.4 L1036.5,404.9 L1037.2,406.4 L1035.8,405.7 L1034.6,405.0 L1033.3,405.0 L1032.8,404.1 L1032.3,403.3 L1032.0,401.8 L1032.6,400.7Z M1038.9,410.0 L1040.1,411.9 L1040.2,413.8 L1039.2,414.8 L1038.9,413.5 L1038.7,415.3 L1037.3,414.5 L1037.1,413.3 L1036.1,412.8 L1034.6,413.7 L1034.8,412.3 L1036.5,411.5 L1037.7,411.6 L1038.3,411.0Z M1037.7,406.6 L1038.9,406.9 L1039.2,408.5 L1038.3,409.5 L1038.0,408.6 L1037.6,407.8Z M1034.6,407.5 L1036.1,407.8 L1036.5,409.1 L1036.1,410.8 L1035.2,410.4 L1035.3,409.1 L1034.5,409.1 L1034.6,408.2Z M1028.6,411.8 L1030.2,410.4 L1031.5,408.9 L1031.7,408.1 L1031.1,408.7 L1029.8,410.1Z M1032.7,405.4 L1034.0,405.7 L1033.7,406.8 L1033.1,406.6Z M1034.0,389.6 L1034.6,390.0 L1034.0,392.1 L1033.1,394.1 L1032.3,393.0 L1032.3,391.7 L1033.3,390.0Z M1018.0,397.9 L1019.6,396.7 L1020.8,397.2 L1020.2,398.5 L1019.0,399.2 L1018.0,398.6Z M982.0,410.0 L982.7,410.5 L983.7,411.6 L984.5,413.2 L984.1,414.3 L982.9,414.9 L982.1,414.4 L981.9,412.9 L981.9,411.6Z M1058.9,365.4 L1058.9,366.9 L1059.6,368.5 L1058.9,370.4 L1058.3,372.5 L1057.8,373.7 L1058.2,374.5 L1057.3,375.4 L1056.9,375.7 L1056.7,375.0 L1056.1,375.3 L1055.6,376.2 L1054.9,376.0 L1053.6,376.2 L1053.2,375.6 L1053.1,376.6 L1052.1,377.8 L1050.9,376.8 L1051.2,376.0 L1049.6,376.2 L1047.7,376.6 L1045.8,377.1 L1045.8,376.3 L1047.7,375.0 L1048.7,374.7 L1050.8,374.5 L1052.1,373.6 L1052.9,372.8 L1053.7,371.7 L1053.3,372.8 L1054.9,372.2 L1055.8,370.9 L1056.8,369.3 L1057.1,367.7 L1057.1,366.6 L1057.4,365.7 L1058.3,366.1Z M1057.3,365.2 L1057.7,363.4 L1057.4,362.2 L1058.7,362.2 L1059.2,360.1 L1059.2,358.5 L1060.8,359.9 L1062.4,361.0 L1063.7,360.5 L1064.1,362.0 L1062.6,362.7 L1061.2,364.4 L1059.6,363.6 L1058.3,363.7 L1058.1,364.4 L1058.3,364.7Z M1045.7,377.2 L1046.7,377.7 L1047.1,378.9 L1046.3,380.8 L1045.4,381.5 L1044.8,381.1 L1044.8,379.8 L1044.3,379.0 L1044.2,378.0 L1045.1,377.7Z M1047.7,377.1 L1049.6,376.6 L1050.4,377.4 L1049.8,378.1 L1048.7,378.0 L1048.3,379.0 L1047.6,378.1Z M1060.2,341.2 L1061.1,344.0 L1061.2,347.0 L1061.8,350.9 L1060.8,351.9 L1060.6,354.7 L1061.4,356.0 L1061.3,357.1 L1060.4,356.2 L1059.6,357.4 L1059.6,354.7 L1059.8,351.9 L1059.6,348.0 L1059.3,345.0 L1059.6,342.7Z M946.5,292.4 L948.4,295.1 L951.5,295.5 L954.0,295.9 L952.8,290.4 L952.1,285.0 L954.6,279.6 L958.4,274.7 L963.4,270.6 L967.8,268.0 L964.6,266.9 L959.6,270.6 L954.6,274.7 L951.5,279.6 L949.6,285.0 L947.8,289.2Z M895.9,251.5 L899.7,248.0 L903.4,248.0 L907.2,249.4 L905.3,254.8 L908.4,258.0 L905.9,262.3 L903.4,268.5 L900.9,265.7 L899.1,261.1 L895.9,256.1Z M905.3,246.5 L909.7,244.3 L914.7,246.5 L915.9,249.4 L912.2,252.8 L907.2,251.5Z M909.1,261.1 L912.2,262.3 L910.9,265.2 L909.1,264.0Z M1000.9,254.8 L1003.4,245.8 L1001.5,238.8 L1005.9,242.0 L1010.8,252.8 L1013.3,258.0 L1007.1,261.1 L1005.9,256.1 L1003.4,256.1Z M1053.9,274.7 L1057.1,271.7 L1062.1,274.2 L1064.6,276.2 L1062.1,277.7 L1058.3,278.6 L1055.8,278.2Z M1057.1,283.7 L1060.8,284.1 L1060.2,285.4 L1057.4,285.0Z M1065.8,275.7 L1069.6,276.2 L1070.2,278.2 L1066.4,278.2Z M944.0,244.3 L947.1,241.6 L951.5,242.0 L953.4,244.3 L949.6,245.8 L945.9,246.5Z M942.5,300.3 L944.4,300.3 L944.4,302.4 L942.8,302.4Z M955.3,297.0 L957.1,296.6 L957.4,298.8 L955.9,299.2Z M1067.7,429.7 L1070.2,429.6 L1072.0,428.0 L1072.4,429.1 L1069.6,430.7Z M1070.5,425.8 L1072.0,426.6 L1073.3,428.4 L1072.8,428.0 L1071.4,426.6Z M1075.4,429.8 L1076.9,431.5 L1076.3,431.5Z M1077.7,431.8 L1079.3,433.2 L1078.5,433.2Z M1081.4,433.5 L1083.3,435.7 L1082.7,435.7 L1081.5,435.0Z M1082.9,433.7 L1083.5,435.3 L1083.2,434.6Z M1090.3,442.9 L1091.2,443.7 L1090.5,443.7Z M1091.0,444.4 L1091.8,444.9 L1091.3,445.0Z M1087.0,449.7 L1088.9,450.8 L1090.8,452.6 L1089.9,452.4 L1087.4,450.5Z M1103.6,446.3 L1105.3,446.3 L1105.1,447.2 L1103.8,447.1Z M1105.5,444.9 L1107.0,444.6 L1106.4,445.4Z M1036.5,436.1 L1038.3,434.6 L1040.8,433.5 L1039.6,434.4 L1037.1,435.8Z M1032.0,433.5 L1034.0,433.7 L1035.8,433.4 L1035.6,434.1 L1032.7,434.1Z M1028.1,433.5 L1029.6,433.2 L1031.0,433.5 L1030.2,434.0 L1028.3,434.3Z M1027.0,433.4 L1028.0,433.4 L1027.7,434.2 L1027.1,434.0Z M1025.3,433.2 L1026.6,433.2 L1026.1,434.0Z M1030.8,435.0 L1032.3,435.1 L1033.1,435.9 L1031.5,435.5Z M1041.4,419.8 L1042.1,420.4 L1042.9,420.4 L1042.1,421.7 L1042.7,423.4 L1041.9,422.7 L1041.4,421.1Z M1042.1,426.3 L1045.6,426.4 L1045.2,427.1 L1042.3,427.0Z M1039.6,426.6 L1041.1,426.7 L1040.6,427.4 L1039.7,427.2Z M1013.6,424.4 L1014.8,424.7 L1015.5,426.3 L1014.3,425.7Z M1063.9,361.0 L1065.2,359.9 L1064.7,360.6Z M1065.8,359.2 L1068.1,358.2 L1067.1,358.9Z M1069.1,357.8 L1070.2,356.9 L1069.6,357.6Z M1072.0,355.3 L1072.8,354.5 L1072.3,355.3Z M1075.8,350.0 L1077.0,348.4 L1076.5,349.6Z M1086.4,330.3 L1087.8,330.5 L1087.0,331.7Z M1039.8,377.8 L1040.7,377.8 L1040.2,378.3Z M1041.7,388.4 L1042.4,387.5 L1042.1,388.2Z M873.0,322.4 L874.1,322.4 L873.7,324.0Z M880.3,326.5 L881.1,327.0 L880.6,328.3Z M873.2,332.2 L874.3,332.2 L873.2,334.8Z M885.2,368.4 L886.4,367.9 L886.2,368.8Z M910.9,369.3 L912.8,370.6 L912.2,370.9Z M916.8,373.7 L917.4,373.4 L917.0,374.2Z M1036.7,390.9 L1037.5,390.7 L1037.1,391.1Z M789.5,479.3 L790.4,479.8 L790.3,481.9 L789.3,481.2Z M790.5,220.0 L797.5,221.2 L804.0,227.5 L801.0,232.5 L797.5,235.5 L800.0,236.8 L796.0,243.0 L793.5,247.2 L786.5,253.0 L786.8,259.0 L783.5,264.5 L784.8,268.0 L781.0,271.2 L775.0,270.5 L770.0,269.0 L771.5,264.2 L774.5,262.2 L771.5,260.0 L774.5,253.0 L773.0,247.2 L778.5,245.5 L777.0,244.3 L771.5,244.5 L769.0,240.0 L767.0,233.5 L774.5,226.5 L777.0,228.7 L779.0,223.0 L785.0,220.5Z M764.0,239.0 L766.5,240.0 L769.0,243.0 L772.0,247.2 L773.5,253.5 L770.0,259.7 L765.0,258.0 L761.5,250.0 L761.0,245.0Z" fill="#2d9cdb" stroke="#2d9cdb" stroke-width="0.5" stroke-linejoin="round"/>
<path d="M940.9,358.3 L943.4,356.5 L946.5,356.0 L948.4,356.5 L948.4,358.7 L946.1,359.9 L945.0,360.1 L946.5,362.4 L948.1,363.6 L947.8,365.2 L949.4,366.4 L948.4,367.7 L949.0,369.3 L949.6,371.7 L949.4,372.6 L947.1,373.1 L944.9,372.0 L943.4,371.2 L943.3,369.6 L944.0,367.4 L945.0,367.1 L944.0,366.1 L942.8,364.4 L941.5,362.7 L941.5,361.0 L940.7,359.9Z" fill="#fff"/>
<circle cx="914" cy="369" r="15" fill="#fff" stroke="#ff4500" stroke-width="10"/>
</svg>
<svg width="1200" height="2140" viewBox="0 0 1200 2140" fill="none" stroke="#015b9e" stroke-linecap="round" stroke-linejoin="round">
<defs>
<g id="wind" stroke-width="22">
<path d="M89,400 H560 A185,185 0 0 0 745.0,215.0 A135,135 0 0 0 610.0,80.0 A127,127 0 0 0 483.0,207.0 A85,85 0 0 0 568.0,292.0 A80,80 0 0 0 629.3,263.4"/>
<path d="M190,333 H308"/>
<path d="M377,507 H567"/>
<path d="M662,507 H900 A155,155 0 0 0 1055.0,352.0 A113,113 0 0 0 942.0,239.0 A105,105 0 0 0 837.0,344.0 A72,72 0 0 0 909.0,416.0 A66,66 0 0 0 959.6,392.4"/>
<path d="M90,608 H153"/>
<path d="M245,608 H600 A250,250 0 0 1 850.0,858.0 A165,165 0 0 1 685.0,1023.0 A170,170 0 0 1 515.0,853.0 A100,100 0 0 1 615.0,753.0 A95,95 0 0 1 692.8,793.5"/>
<path d="M155,675 H325"/>
<path d="M825,598 H1000 A107,107 0 0 1 1107.0,705.0 A82,82 0 0 1 1025.0,787.0 A75,75 0 0 1 950.0,712.0 A52,52 0 0 1 1002.0,660.0 A48,48 0 0 1 1043.6,684.0"/>
</g>
</defs>
<use href="#wind" transform="translate(30,20) scale(0.125)"/>
<use href="#wind" transform="translate(1151.875,20) scale(-0.125,0.125)"/>
<g transform="translate(20,190) scale(0.16667)" stroke-width="16.5"><path d="M377.5,680.5 V232 A67.5,67.5 0 0 1 512.5,232 V680.5 A159.5,159.5 0 1 1 377.5,680.5 Z"/><path d="M419,705.8 V280.5 A26,26 0 0 1 471,280.5 V705.8 A122,122 0 1 1 419,705.8 Z"/><path d="M365,825 A80,80 0 0 1 413,749"/><path d="M258,245 H326"/><path d="M283,330 H326"/><path d="M258,415 H326"/><path d="M283,500 H326"/><path d="M258,585 H326"/><path d="M172,938 V784 M125,840 L172,780 L220,840"/><circle cx="830" cy="572" r="115"/><path d="M758,552 A75,75 0 0 1 812,500"/><path d="M992.0,572.0 L1062.0,572.0"/><path d="M976.0,632.5 L1012.9,647.8"/><path d="M944.6,686.6 L994.0,736.0"/><path d="M890.5,718.0 L905.8,754.9"/><path d="M830.0,734.0 L830.0,804.0"/><path d="M769.5,718.0 L754.2,754.9"/><path d="M715.4,686.6 L666.0,736.0"/><path d="M684.0,632.5 L647.1,647.8"/><path d="M668.0,572.0 L598.0,572.0"/><path d="M684.0,511.5 L647.1,496.2"/><path d="M715.4,457.4 L666.0,408.0"/><path d="M769.5,426.0 L754.2,389.1"/><path d="M830.0,410.0 L830.0,340.0"/><path d="M890.5,426.0 L905.8,389.1"/><path d="M944.6,457.4 L994.0,408.0"/><path d="M976.0,511.5 L1012.9,496.2"/></g>
<g transform="translate(20,380) scale(0.16667)" stroke-width="16.5"><path d="M387.5,711 V246 A70.5,70.5 0 0 1 528.5,246 V711 A168.5,168.5 0 1 1 387.5,711 Z"/><path d="M430.5,739.5 V602 A27.5,27.5 0 0 1 485.5,602 V739.5 A127.5,127.5 0 1 1 430.5,739.5 Z"/><path d="M375,862 A84,84 0 0 1 428,785"/><path d="M262,262 H338"/><path d="M287,350 H338"/><path d="M262,438 H338"/><path d="M287,526 H338"/><path d="M262,614 H338"/><path d="M175,822 V981 M125,922 L175,985 L228,922"/><g transform="translate(858,605)" stroke-width="18.5"><g transform="rotate(0)"><path d="M0,0 V-228 M-54,-212 L0,-158 L54,-212 M-48,-127 L0,-78 L48,-127"/></g><g transform="rotate(60)"><path d="M0,0 V-228 M-54,-212 L0,-158 L54,-212 M-48,-127 L0,-78 L48,-127"/></g><g transform="rotate(120)"><path d="M0,0 V-228 M-54,-212 L0,-158 L54,-212 M-48,-127 L0,-78 L48,-127"/></g><g transform="rotate(180)"><path d="M0,0 V-228 M-54,-212 L0,-158 L54,-212 M-48,-127 L0,-78 L48,-127"/></g><g transform="rotate(240)"><path d="M0,0 V-228 M-54,-212 L0,-158 L54,-212 M-48,-127 L0,-78 L48,-127"/></g><g transform="rotate(300)"><path d="M0,0 V-228 M-54,-212 L0,-158 L54,-212 M-48,-127 L0,-78 L48,-127"/></g></g></g>
<g transform="translate(30,580.8) scale(0.16667)" stroke-width="14"><circle cx="447" cy="410" r="216" fill="#fff"/><path d="M688.5,322.1 L798.4,282.1"/><path d="M702.8,421.2 L764.7,423.9"/><path d="M679.9,518.6 L786.0,568.1"/><path d="M620.0,598.7 L661.8,644.5"/><path d="M534.9,651.5 L574.9,761.4"/><path d="M435.8,665.8 L433.1,727.7"/><path d="M338.4,642.9 L288.9,749.0"/><path d="M258.3,583.0 L212.5,624.8"/><path d="M205.5,497.9 L95.6,537.9"/><path d="M191.2,398.8 L129.3,396.1"/><path d="M214.1,301.4 L108.0,251.9"/><path d="M274.0,221.3 L232.2,175.5"/><path d="M359.1,168.5 L319.1,58.6"/><path d="M458.2,154.2 L460.9,92.3"/><path d="M555.6,177.1 L605.1,71.0"/><path d="M635.7,237.0 L681.5,195.2"/><path d="M320,282 A182,182 0 0 1 428,230"/><path d="M418,593 L436,596 M467,597 A190,190 0 0 0 557,560"/></g>
<g transform="translate(30,1330) scale(0.16667)" stroke-width="13"><path d="M390,100 A289.25,289.25 0 1 0 800,508 Q715,470 670,380 Q565,325 515,228 Q425,185 390,100 Z" fill="#fff"/><path d="M390,505 L183,717 A42,42 0 1 0 257,752"/><path d="M390,505 Q375,470 390,425 M405,380 Q440,300 515,228"/><path d="M390,505 Q480,520 590,450 M625,425 L670,380"/><path d="M347,260 Q338,305 347,350 M620,555 Q660,550 695,535"/></g>
</svg>
<svg width="1200" height="2140" viewBox="0 0 1200 2140" font-family="Liberation Sans, sans-serif">
<line x1="105.5" y1="991.50" x2="731" y2="991.50" stroke="#b4cde3" stroke-width="1"/>
<line x1="105.5" y1="956.50" x2="731" y2="956.50" stroke="#b4cde3" stroke-width="1"/>
<line x1="105.5" y1="922.50" x2="731" y2="922.50" stroke="#b4cde3" stroke-width="1"/>
<line x1="105.5" y1="888.50" x2="731" y2="888.50" stroke="#b4cde3" stroke-width="1"/>
<line x1="105.5" y1="853.50" x2="731" y2="853.50" stroke="#b4cde3" stroke-width="1"/>
<line x1="105.5" y1="819.50" x2="731" y2="819.50" stroke="#b4cde3" stroke-width="1"/>
<line x1="105.5" y1="784.50" x2="731" y2="784.50" stroke="#b4cde3" stroke-width="1"/>
<line x1="105.5" y1="750.50" x2="731" y2="750.50" stroke="#b4cde3" stroke-width="1"/>
<line x1="131.50" y1="750.5" x2="131.50" y2="1025.5" stroke="#b4cde3" stroke-width="1"/>
<line x1="183.50" y1="750.5" x2="183.50" y2="1025.5" stroke="#b4cde3" stroke-width="1"/>
<line x1="235.50" y1="750.5" x2="235.50" y2="1025.5" stroke="#b4cde3" stroke-width="1"/>
<line x1="287.50" y1="750.5" x2="287.50" y2="1025.5" stroke="#b4cde3" stroke-width="1"/>
<line x1="340.50" y1="750.5" x2="340.50" y2="1025.5" stroke="#b4cde3" stroke-width="1"/>
<line x1="392.50" y1="750.5" x2="392.50" y2="1025.5" stroke="#b4cde3" stroke-width="1"/>
<line x1="444.50" y1="750.5" x2="444.50" y2="1025.5" stroke="#b4cde3" stroke-width="1"/>
<line x1="496.50" y1="750.5" x2="496.50" y2="1025.5" stroke="#b4cde3" stroke-width="1"/>
<line x1="548.50" y1="750.5" x2="548.50" y2="1025.5" stroke="#b4cde3" stroke-width="1"/>
<line x1="600.50" y1="750.5" x2="600.50" y2="1025.5" stroke="#b4cde3" stroke-width="1"/>
<line x1="652.50" y1="750.5" x2="652.50" y2="1025.5" stroke="#b4cde3" stroke-width="1"/>
<line x1="704.50" y1="750.5" x2="704.50" y2="1025.5" stroke="#b4cde3" stroke-width="1"/>
<line x1="105.5" y1="750.0" x2="105.5" y2="1026.0" stroke="#11629f" stroke-width="1"/>
<line x1="100.0" y1="1025.5" x2="731" y2="1025.5" stroke="#11629f" stroke-width="1"/>
<line x1="100.0" y1="1025.50" x2="105.5" y2="1025.50" stroke="#11629f" stroke-width="1"/>
<text x="94.3" y="1029.10" font-size="11" fill="#11629f" text-anchor="end" letter-spacing="0.25">12°C</text>
<line x1="100.0" y1="991.50" x2="105.5" y2="991.50" stroke="#11629f" stroke-width="1"/>
<text x="94.3" y="995.10" font-size="11" fill="#11629f" text-anchor="end" letter-spacing="0.25">14°C</text>
<line x1="100.0" y1="956.50" x2="105.5" y2="956.50" stroke="#11629f" stroke-width="1"/>
<text x="94.3" y="960.10" font-size="11" fill="#11629f" text-anchor="end" letter-spacing="0.25">16°C</text>
<line x1="100.0" y1="922.50" x2="105.5" y2="922.50" stroke="#11629f" stroke-width="1"/>
<text x="94.3" y="926.10" font-size="11" fill="#11629f" text-anchor="end" letter-spacing="0.25">18°C</text>
<line x1="100.0" y1="888.50" x2="105.5" y2="888.50" stroke="#11629f" stroke-width="1"/>
<text x="94.3" y="892.10" font-size="11" fill="#11629f" text-anchor="end" letter-spacing="0.25">20°C</text>
<line x1="100.0" y1="853.50" x2="105.5" y2="853.50" stroke="#11629f" stroke-width="1"/>
<text x="94.3" y="857.10" font-size="11" fill="#11629f" text-anchor="end" letter-spacing="0.25">22°C</text>
<line x1="100.0" y1="819.50" x2="105.5" y2="819.50" stroke="#11629f" stroke-width="1"/>
<text x="94.3" y="823.10" font-size="11" fill="#11629f" text-anchor="end" letter-spacing="0.25">24°C</text>
<line x1="100.0" y1="784.50" x2="105.5" y2="784.50" stroke="#11629f" stroke-width="1"/>
<text x="94.3" y="788.10" font-size="11" fill="#11629f" text-anchor="end" letter-spacing="0.25">26°C</text>
<line x1="100.0" y1="750.50" x2="105.5" y2="750.50" stroke="#11629f" stroke-width="1"/>
<text x="94.3" y="754.10" font-size="11" fill="#11629f" text-anchor="end" letter-spacing="0.25">28°C</text>
<text x="129.06" y="1046" font-size="12.5" fill="#11629f" text-anchor="middle" letter-spacing="0.3">Sty</text>
<text x="181.19" y="1046" font-size="12.5" fill="#11629f" text-anchor="middle" letter-spacing="0.3">Lut</text>
<text x="233.31" y="1046" font-size="12.5" fill="#11629f" text-anchor="middle" letter-spacing="0.3">Mar</text>
<text x="285.44" y="1046" font-size="12.5" fill="#11629f" text-anchor="middle" letter-spacing="0.3">Kwi</text>
<text x="337.56" y="1046" font-size="12.5" fill="#11629f" text-anchor="middle" letter-spacing="0.3">Maj</text>
<text x="389.69" y="1046" font-size="12.5" fill="#11629f" text-anchor="middle" letter-spacing="0.3">Cze</text>
<text x="441.81" y="1046" font-size="12.5" fill="#11629f" text-anchor="middle" letter-spacing="0.3">Lip</text>
<text x="493.94" y="1046" font-size="12.5" fill="#11629f" text-anchor="middle" letter-spacing="0.3">Sie</text>
<text x="546.06" y="1046" font-size="12.5" fill="#11629f" text-anchor="middle" letter-spacing="0.3">Wrz</text>
<text x="598.19" y="1046" font-size="12.5" fill="#11629f" text-anchor="middle" letter-spacing="0.3">Paź</text>
<text x="650.31" y="1046" font-size="12.5" fill="#11629f" text-anchor="middle" letter-spacing="0.3">Lis</text>
<text x="702.44" y="1046" font-size="12.5" fill="#11629f" text-anchor="middle" letter-spacing="0.3">Gru</text>
<text transform="translate(50,889) rotate(-90)" font-size="13" fill="#11629f" text-anchor="middle" letter-spacing="0.85">Temperatura</text>
<line x1="132.56" y1="990.83" x2="184.69" y2="973.64" stroke="#ff4500" stroke-width="3.6" stroke-opacity="0.8" stroke-linecap="round"/>
<line x1="184.69" y1="973.64" x2="236.81" y2="956.45" stroke="#ff4500" stroke-width="3.6" stroke-opacity="0.8" stroke-linecap="round"/>
<line x1="236.81" y1="956.45" x2="288.94" y2="922.08" stroke="#ff4500" stroke-width="3.6" stroke-opacity="0.8" stroke-linecap="round"/>
<line x1="288.94" y1="922.08" x2="341.06" y2="870.51" stroke="#ff4500" stroke-width="3.6" stroke-opacity="0.8" stroke-linecap="round"/>
<line x1="341.06" y1="870.51" x2="393.19" y2="801.76" stroke="#ff4500" stroke-width="3.6" stroke-opacity="0.8" stroke-linecap="round"/>
<line x1="393.19" y1="801.76" x2="445.31" y2="767.39" stroke="#ff4500" stroke-width="3.6" stroke-opacity="0.8" stroke-linecap="round"/>
<line x1="445.31" y1="767.39" x2="497.44" y2="767.39" stroke="#ff4500" stroke-width="3.6" stroke-opacity="1" stroke-linecap="round"/>
<line x1="497.44" y1="767.39" x2="549.56" y2="801.76" stroke="#ff4500" stroke-width="3.6" stroke-opacity="0.8" stroke-linecap="round"/>
<line x1="549.56" y1="801.76" x2="601.69" y2="853.33" stroke="#ff4500" stroke-width="3.6" stroke-opacity="0.8" stroke-linecap="round"/>
<line x1="601.69" y1="853.33" x2="653.81" y2="904.89" stroke="#ff4500" stroke-width="3.6" stroke-opacity="0.8" stroke-linecap="round"/>
<line x1="653.81" y1="904.89" x2="705.94" y2="956.45" stroke="#ff4500" stroke-width="3.6" stroke-opacity="0.8" stroke-linecap="round"/>
<circle cx="132.56" cy="990.83" r="3.55" fill="#fff" stroke="#ff4500" stroke-width="0.9"/>
<circle cx="184.69" cy="973.64" r="3.55" fill="#fff" stroke="#ff4500" stroke-width="0.9"/>
<circle cx="236.81" cy="956.45" r="3.55" fill="#fff" stroke="#ff4500" stroke-width="0.9"/>
<circle cx="288.94" cy="922.08" r="3.55" fill="#fff" stroke="#ff4500" stroke-width="0.9"/>
<circle cx="341.06" cy="870.51" r="3.55" fill="#fff" stroke="#ff4500" stroke-width="0.9"/>
<circle cx="393.19" cy="801.76" r="3.55" fill="#fff" stroke="#ff4500" stroke-width="0.9"/>
<circle cx="445.31" cy="767.39" r="3.55" fill="#fff" stroke="#ff4500" stroke-width="0.9"/>
<circle cx="497.44" cy="767.39" r="3.55" fill="#fff" stroke="#ff4500" stroke-width="0.9"/>
<circle cx="549.56" cy="801.76" r="3.55" fill="#fff" stroke="#ff4500" stroke-width="0.9"/>
<circle cx="601.69" cy="853.33" r="3.55" fill="#fff" stroke="#ff4500" stroke-width="0.9"/>
<circle cx="653.81" cy="904.89" r="3.55" fill="#fff" stroke="#ff4500" stroke-width="0.9"/>
<circle cx="705.94" cy="956.45" r="3.55" fill="#fff" stroke="#ff4500" stroke-width="0.9"/>
<line x1="132.56" y1="1025.20" x2="184.69" y2="1008.01" stroke="#2d9cdb" stroke-width="3.6" stroke-opacity="0.8" stroke-linecap="round"/>
<line x1="184.69" y1="1008.01" x2="236.81" y2="1008.01" stroke="#2d9cdb" stroke-width="3.6" stroke-opacity="1" stroke-linecap="round"/>
<line x1="236.81" y1="1008.01" x2="288.94" y2="973.64" stroke="#2d9cdb" stroke-width="3.6" stroke-opacity="0.8" stroke-linecap="round"/>
<line x1="288.94" y1="973.64" x2="341.06" y2="922.08" stroke="#2d9cdb" stroke-width="3.6" stroke-opacity="0.8" stroke-linecap="round"/>
<line x1="341.06" y1="922.08" x2="393.19" y2="853.33" stroke="#2d9cdb" stroke-width="3.6" stroke-opacity="0.8" stroke-linecap="round"/>
<line x1="393.19" y1="853.33" x2="445.31" y2="818.95" stroke="#2d9cdb" stroke-width="3.6" stroke-opacity="0.8" stroke-linecap="round"/>
<line x1="445.31" y1="818.95" x2="497.44" y2="818.95" stroke="#2d9cdb" stroke-width="3.6" stroke-opacity="1" stroke-linecap="round"/>
<line x1="497.44" y1="818.95" x2="549.56" y2="836.14" stroke="#2d9cdb" stroke-width="3.6" stroke-opacity="0.8" stroke-linecap="round"/>
<line x1="549.56" y1="836.14" x2="601.69" y2="887.70" stroke="#2d9cdb" stroke-width="3.6" stroke-opacity="0.8" stroke-linecap="round"/>
<line x1="601.69" y1="887.70" x2="653.81" y2="939.26" stroke="#2d9cdb" stroke-width="3.6" stroke-opacity="0.8" stroke-linecap="round"/>
<line x1="653.81" y1="939.26" x2="705.94" y2="990.83" stroke="#2d9cdb" stroke-width="3.6" stroke-opacity="0.8" stroke-linecap="round"/>
<circle cx="132.56" cy="1025.20" r="3.55" fill="#fff" stroke="#2d9cdb" stroke-width="0.9"/>
<circle cx="184.69" cy="1008.01" r="3.55" fill="#fff" stroke="#2d9cdb" stroke-width="0.9"/>
<circle cx="236.81" cy="1008.01" r="3.55" fill="#fff" stroke="#2d9cdb" stroke-width="0.9"/>
<circle cx="288.94" cy="973.64" r="3.55" fill="#fff" stroke="#2d9cdb" stroke-width="0.9"/>
<circle cx="341.06" cy="922.08" r="3.55" fill="#fff" stroke="#2d9cdb" stroke-width="0.9"/>
<circle cx="393.19" cy="853.33" r="3.55" fill="#fff" stroke="#2d9cdb" stroke-width="0.9"/>
<circle cx="445.31" cy="818.95" r="3.55" fill="#fff" stroke="#2d9cdb" stroke-width="0.9"/>
<circle cx="497.44" cy="818.95" r="3.55" fill="#fff" stroke="#2d9cdb" stroke-width="0.9"/>
<circle cx="549.56" cy="836.14" r="3.55" fill="#fff" stroke="#2d9cdb" stroke-width="0.9"/>
<circle cx="601.69" cy="887.70" r="3.55" fill="#fff" stroke="#2d9cdb" stroke-width="0.9"/>
<circle cx="653.81" cy="939.26" r="3.55" fill="#fff" stroke="#2d9cdb" stroke-width="0.9"/>
<circle cx="705.94" cy="990.83" r="3.55" fill="#fff" stroke="#2d9cdb" stroke-width="0.9"/>
<line x1="117.3" y1="1080" x2="147.8" y2="1080" stroke="#ff4500" stroke-width="3.6"/>
<circle cx="132.55" cy="1080" r="3.55" fill="#fff" stroke="#ff4500" stroke-width="0.9"/>
<text x="157.4" y="1083.5" font-size="12.5" fill="#11629f" textLength="222.6" lengthAdjust="spacing">Temperatura maksymalna (średnia)</text>
<line x1="408.4" y1="1080" x2="438.9" y2="1080" stroke="#2d9cdb" stroke-width="3.6"/>
<circle cx="423.65" cy="1080" r="3.55" fill="#fff" stroke="#2d9cdb" stroke-width="0.9"/>
<text x="448.5" y="1083.5" font-size="12.5" fill="#11629f" textLength="209.89999999999998" lengthAdjust="spacing">Temperatura minimalna (średnia)</text>
</svg>
<svg width="1200" height="2140" viewBox="0 0 1200 2140" font-family="Liberation Sans, sans-serif" font-weight="bold">
<defs><clipPath id="tclip"><rect x="41.25" y="1185.75" width="1118.75" height="110.25" rx="4.5" ry="4.5"/></clipPath></defs>
<g clip-path="url(#tclip)">
<rect x="41.25" y="1185.75" width="93.50" height="110.25" fill="#ffc590"/>
<rect x="134.25" y="1185.75" width="93.50" height="110.25" fill="#ffbe84"/>
<rect x="227.25" y="1185.75" width="93.50" height="110.25" fill="#ffb878"/>
<rect x="320.25" y="1185.75" width="93.50" height="110.25" fill="#ffa95c"/>
<rect x="413.25" y="1185.75" width="93.50" height="110.25" fill="#ff9232"/>
<rect x="506.25" y="1185.75" width="93.50" height="110.25" fill="#ff7b08"/>
<rect x="599.25" y="1185.75" width="93.50" height="110.25" fill="#ff7000"/>
<rect x="692.25" y="1185.75" width="93.50" height="110.25" fill="#ff6c00"/>
<rect x="785.25" y="1185.75" width="93.50" height="110.25" fill="#ff7a06"/>
<rect x="878.25" y="1185.75" width="93.50" height="110.25" fill="#ff8f2c"/>
<rect x="971.25" y="1185.75" width="93.50" height="110.25" fill="#ffa04c"/>
<rect x="1064.25" y="1185.75" width="96.25" height="110.25" fill="#ffb878"/>
<rect x="41.25" y="1185.75" width="1118.75" height="39.75" fill="#fff" fill-opacity="0.035"/>
<rect x="41.25" y="1224.9" width="1118.75" height="1.2" fill="#fff" fill-opacity="0.85"/>
</g>
<text x="86.95" y="1211.8" font-size="16.5" fill="#000" fill-opacity="0.5" text-anchor="middle" letter-spacing="0">STY</text>
<text x="87.95" y="1270.7" font-size="28" fill="#000" fill-opacity="0.5" text-anchor="middle" letter-spacing="0.3">13°</text>
<text x="179.95" y="1211.8" font-size="16.5" fill="#000" fill-opacity="0.5" text-anchor="middle" letter-spacing="0">LUT</text>
<text x="180.95" y="1270.7" font-size="28" fill="#000" fill-opacity="0.5" text-anchor="middle" letter-spacing="0.3">14°</text>
<text x="272.95" y="1211.8" font-size="16.5" fill="#000" fill-opacity="0.5" text-anchor="middle" letter-spacing="0">MAR</text>
<text x="273.95" y="1270.7" font-size="28" fill="#000" fill-opacity="0.5" text-anchor="middle" letter-spacing="0.3">14°</text>
<text x="365.95" y="1211.8" font-size="16.5" fill="#000" fill-opacity="0.5" text-anchor="middle" letter-spacing="0">KWI</text>
<text x="366.95" y="1270.7" font-size="28" fill="#000" fill-opacity="0.5" text-anchor="middle" letter-spacing="0.3">16°</text>
<text x="458.95" y="1211.8" font-size="16.5" fill="#000" fill-opacity="0.5" text-anchor="middle" letter-spacing="0">MAJ</text>
<text x="459.95" y="1270.7" font-size="28" fill="#000" fill-opacity="0.5" text-anchor="middle" letter-spacing="0.3">20°</text>
<text x="551.95" y="1211.8" font-size="16.5" fill="#000" fill-opacity="0.5" text-anchor="middle" letter-spacing="0">CZE</text>
<text x="552.95" y="1270.7" font-size="28" fill="#000" fill-opacity="0.5" text-anchor="middle" letter-spacing="0.3">24°</text>
<text x="644.95" y="1211.8" font-size="16.5" fill="#000" fill-opacity="0.5" text-anchor="middle" letter-spacing="0">LIP</text>
<text x="645.95" y="1270.7" font-size="28" fill="#000" fill-opacity="0.5" text-anchor="middle" letter-spacing="0.3">25°</text>
<text x="737.95" y="1211.8" font-size="16.5" fill="#000" fill-opacity="0.5" text-anchor="middle" letter-spacing="0">SIE</text>
<text x="738.95" y="1270.7" font-size="28" fill="#000" fill-opacity="0.5" text-anchor="middle" letter-spacing="0.3">26°</text>
<text x="830.95" y="1211.8" font-size="16.5" fill="#000" fill-opacity="0.5" text-anchor="middle" letter-spacing="0">WRZ</text>
<text x="831.95" y="1270.7" font-size="28" fill="#000" fill-opacity="0.5" text-anchor="middle" letter-spacing="0.3">24°</text>
<text x="923.95" y="1211.8" font-size="16.5" fill="#000" fill-opacity="0.5" text-anchor="middle" letter-spacing="0">PAŹ</text>
<text x="924.95" y="1270.7" font-size="28" fill="#000" fill-opacity="0.5" text-anchor="middle" letter-spacing="0.3">21°</text>
<text x="1016.95" y="1211.8" font-size="16.5" fill="#000" fill-opacity="0.5" text-anchor="middle" letter-spacing="0">LIS</text>
<text x="1017.95" y="1270.7" font-size="28" fill="#000" fill-opacity="0.5" text-anchor="middle" letter-spacing="0.3">18°</text>
<text x="1111.33" y="1211.8" font-size="16.5" fill="#000" fill-opacity="0.5" text-anchor="middle" letter-spacing="0">GRU</text>
<text x="1112.33" y="1270.7" font-size="28" fill="#000" fill-opacity="0.5" text-anchor="middle" letter-spacing="0.3">14°</text>
</svg>
<svg width="1200" height="2140" viewBox="0 0 1200 2140" font-family="Liberation Sans, sans-serif">
<line x1="115.5" y1="1753.50" x2="731" y2="1753.50" stroke="#b4cde3" stroke-width="1"/>
<line x1="115.5" y1="1723.50" x2="731" y2="1723.50" stroke="#b4cde3" stroke-width="1"/>
<line x1="115.5" y1="1692.50" x2="731" y2="1692.50" stroke="#b4cde3" stroke-width="1"/>
<line x1="115.5" y1="1662.50" x2="731" y2="1662.50" stroke="#b4cde3" stroke-width="1"/>
<line x1="115.5" y1="1631.50" x2="731" y2="1631.50" stroke="#b4cde3" stroke-width="1"/>
<line x1="115.5" y1="1601.50" x2="731" y2="1601.50" stroke="#b4cde3" stroke-width="1"/>
<line x1="115.5" y1="1570.50" x2="731" y2="1570.50" stroke="#b4cde3" stroke-width="1"/>
<line x1="115.5" y1="1540.50" x2="731" y2="1540.50" stroke="#b4cde3" stroke-width="1"/>
<line x1="115.5" y1="1509.50" x2="731" y2="1509.50" stroke="#b4cde3" stroke-width="1"/>
<line x1="166.50" y1="1509.5" x2="166.50" y2="1784.5" stroke="#b4cde3" stroke-width="1"/>
<line x1="218.50" y1="1509.5" x2="218.50" y2="1784.5" stroke="#b4cde3" stroke-width="1"/>
<line x1="269.50" y1="1509.5" x2="269.50" y2="1784.5" stroke="#b4cde3" stroke-width="1"/>
<line x1="320.50" y1="1509.5" x2="320.50" y2="1784.5" stroke="#b4cde3" stroke-width="1"/>
<line x1="371.50" y1="1509.5" x2="371.50" y2="1784.5" stroke="#b4cde3" stroke-width="1"/>
<line x1="423.50" y1="1509.5" x2="423.50" y2="1784.5" stroke="#b4cde3" stroke-width="1"/>
<line x1="474.50" y1="1509.5" x2="474.50" y2="1784.5" stroke="#b4cde3" stroke-width="1"/>
<line x1="525.50" y1="1509.5" x2="525.50" y2="1784.5" stroke="#b4cde3" stroke-width="1"/>
<line x1="577.50" y1="1509.5" x2="577.50" y2="1784.5" stroke="#b4cde3" stroke-width="1"/>
<line x1="628.50" y1="1509.5" x2="628.50" y2="1784.5" stroke="#b4cde3" stroke-width="1"/>
<line x1="679.50" y1="1509.5" x2="679.50" y2="1784.5" stroke="#b4cde3" stroke-width="1"/>
<rect x="131.00" y="1536.39" width="21.9" height="248.11" fill="#015b9e"/>
<rect x="182.29" y="1595.06" width="21.9" height="189.44" fill="#015b9e"/>
<rect x="233.58" y="1644.25" width="21.9" height="140.25" fill="#015b9e"/>
<rect x="284.87" y="1718.81" width="21.9" height="65.69" fill="#015b9e"/>
<rect x="336.16" y="1731.03" width="21.9" height="53.47" fill="#015b9e"/>
<rect x="387.45" y="1757.92" width="21.9" height="26.58" fill="#015b9e"/>
<rect x="438.75" y="1782.06" width="21.9" height="2.44" fill="#015b9e"/>
<rect x="490.04" y="1782.06" width="21.9" height="2.44" fill="#015b9e"/>
<rect x="541.33" y="1753.64" width="21.9" height="30.86" fill="#015b9e"/>
<rect x="592.62" y="1702.31" width="21.9" height="82.19" fill="#015b9e"/>
<rect x="643.91" y="1658.31" width="21.9" height="126.19" fill="#015b9e"/>
<rect x="695.20" y="1587.42" width="21.9" height="197.08" fill="#015b9e"/>
<line x1="115.5" y1="1509.0" x2="115.5" y2="1785.0" stroke="#11629f" stroke-width="1"/>
<line x1="110.0" y1="1784.5" x2="731" y2="1784.5" stroke="#11629f" stroke-width="1"/>
<line x1="110.0" y1="1784.50" x2="115.5" y2="1784.50" stroke="#11629f" stroke-width="1"/>
<text x="104.6" y="1788.10" font-size="11" fill="#11629f" text-anchor="end" letter-spacing="0.4">0 mm</text>
<line x1="110.0" y1="1753.50" x2="115.5" y2="1753.50" stroke="#11629f" stroke-width="1"/>
<text x="104.6" y="1757.10" font-size="11" fill="#11629f" text-anchor="end" letter-spacing="0.4">10 mm</text>
<line x1="110.0" y1="1723.50" x2="115.5" y2="1723.50" stroke="#11629f" stroke-width="1"/>
<text x="104.6" y="1727.10" font-size="11" fill="#11629f" text-anchor="end" letter-spacing="0.4">20 mm</text>
<line x1="110.0" y1="1692.50" x2="115.5" y2="1692.50" stroke="#11629f" stroke-width="1"/>
<text x="104.6" y="1696.10" font-size="11" fill="#11629f" text-anchor="end" letter-spacing="0.4">30 mm</text>
<line x1="110.0" y1="1662.50" x2="115.5" y2="1662.50" stroke="#11629f" stroke-width="1"/>
<text x="104.6" y="1666.10" font-size="11" fill="#11629f" text-anchor="end" letter-spacing="0.4">40 mm</text>
<line x1="110.0" y1="1631.50" x2="115.5" y2="1631.50" stroke="#11629f" stroke-width="1"/>
<text x="104.6" y="1635.10" font-size="11" fill="#11629f" text-anchor="end" letter-spacing="0.4">50 mm</text>
<line x1="110.0" y1="1601.50" x2="115.5" y2="1601.50" stroke="#11629f" stroke-width="1"/>
<text x="104.6" y="1605.10" font-size="11" fill="#11629f" text-anchor="end" letter-spacing="0.4">60 mm</text>
<line x1="110.0" y1="1570.50" x2="115.5" y2="1570.50" stroke="#11629f" stroke-width="1"/>
<text x="104.6" y="1574.10" font-size="11" fill="#11629f" text-anchor="end" letter-spacing="0.4">70 mm</text>
<line x1="110.0" y1="1540.50" x2="115.5" y2="1540.50" stroke="#11629f" stroke-width="1"/>
<text x="104.6" y="1544.10" font-size="11" fill="#11629f" text-anchor="end" letter-spacing="0.4">80 mm</text>
<line x1="110.0" y1="1509.50" x2="115.5" y2="1509.50" stroke="#11629f" stroke-width="1"/>
<text x="104.6" y="1513.10" font-size="11" fill="#11629f" text-anchor="end" letter-spacing="0.4">90 mm</text>
<text x="138.95" y="1805" font-size="12.5" fill="#11629f" text-anchor="middle" letter-spacing="0.3">Sty</text>
<text x="190.24" y="1805" font-size="12.5" fill="#11629f" text-anchor="middle" letter-spacing="0.3">Lut</text>
<text x="241.53" y="1805" font-size="12.5" fill="#11629f" text-anchor="middle" letter-spacing="0.3">Mar</text>
<text x="292.82" y="1805" font-size="12.5" fill="#11629f" text-anchor="middle" letter-spacing="0.3">Kwi</text>
<text x="344.11" y="1805" font-size="12.5" fill="#11629f" text-anchor="middle" letter-spacing="0.3">Maj</text>
<text x="395.40" y="1805" font-size="12.5" fill="#11629f" text-anchor="middle" letter-spacing="0.3">Cze</text>
<text x="446.70" y="1805" font-size="12.5" fill="#11629f" text-anchor="middle" letter-spacing="0.3">Lip</text>
<text x="497.99" y="1805" font-size="12.5" fill="#11629f" text-anchor="middle" letter-spacing="0.3">Sie</text>
<text x="549.28" y="1805" font-size="12.5" fill="#11629f" text-anchor="middle" letter-spacing="0.3">Wrz</text>
<text x="600.57" y="1805" font-size="12.5" fill="#11629f" text-anchor="middle" letter-spacing="0.3">Paź</text>
<text x="651.86" y="1805" font-size="12.5" fill="#11629f" text-anchor="middle" letter-spacing="0.3">Lis</text>
<text x="703.15" y="1805" font-size="12.5" fill="#11629f" text-anchor="middle" letter-spacing="0.3">Gru</text>
<text transform="translate(50,1646.5) rotate(-90)" font-size="13" fill="#11629f" text-anchor="middle" letter-spacing="0.6">Opady</text>
<rect x="335" y="1834.5" width="8" height="8" fill="#015b9e"/>
<text x="351" y="1843" font-size="12.5" fill="#11629f" textLength="89" lengthAdjust="spacing">Suma opadów</text>
</svg>
<svg width="1200" height="2140" viewBox="0 0 1200 2140" font-family="Liberation Sans, sans-serif" font-weight="bold">
<rect x="37" y="1870" width="703" height="151.25" rx="7" ry="7" fill="#b0dcff"/>
<path d="M37,1900.75 V1877 a7,7 0 0 1 7,-7 H733 a7,7 0 0 1 7,7 V1900.75 Z" fill="#2d9cdb"/>
<path transform="translate(66.75,1915)" d="M0,0 C4,9 10,18 17,30 C22,38.5 25.1,44 25.1,50.7 A25.1,25.1 0 0 1 -25.1,50.7 C-25.1,44 -22,38.5 -17,30 C-10,18 -4,9 0,0 Z" fill="#015b9e"/>
<text x="66.45" y="1972.6" font-size="17.5" fill="#fff" text-anchor="middle" letter-spacing="0.1">27%</text>
<text transform="translate(65.25,2009.3) scale(0.88,1)" font-size="13" fill="#015b9e" text-anchor="middle">STY</text>
<path transform="translate(125.25,1915)" d="M0,0 C4,9 10,18 17,30 C22,38.5 25.1,44 25.1,50.7 A25.1,25.1 0 0 1 -25.1,50.7 C-25.1,44 -22,38.5 -17,30 C-10,18 -4,9 0,0 Z" fill="#2d9cdb"/>
<text x="124.95" y="1972.6" font-size="17.5" fill="#fff" text-anchor="middle" letter-spacing="0.1">22%</text>
<text transform="translate(123.75,2009.3) scale(0.88,1)" font-size="13" fill="#015b9e" text-anchor="middle">LUT</text>
<path transform="translate(183.75,1915)" d="M0,0 C4,9 10,18 17,30 C22,38.5 25.1,44 25.1,50.7 A25.1,25.1 0 0 1 -25.1,50.7 C-25.1,44 -22,38.5 -17,30 C-10,18 -4,9 0,0 Z" fill="#2d9cdb"/>
<text x="183.45" y="1972.6" font-size="17.5" fill="#fff" text-anchor="middle" letter-spacing="0.1">15%</text>
<text transform="translate(182.25,2009.3) scale(0.88,1)" font-size="13" fill="#015b9e" text-anchor="middle">MAR</text>
<path transform="translate(242.25,1915)" d="M0,0 C4,9 10,18 17,30 C22,38.5 25.1,44 25.1,50.7 A25.1,25.1 0 0 1 -25.1,50.7 C-25.1,44 -22,38.5 -17,30 C-10,18 -4,9 0,0 Z" fill="#2d9cdb"/>
<text x="241.95" y="1972.6" font-size="17.5" fill="#fff" text-anchor="middle" letter-spacing="0.1">9%</text>
<text transform="translate(240.75,2009.3) scale(0.88,1)" font-size="13" fill="#015b9e" text-anchor="middle">KWI</text>
<path transform="translate(300.75,1915)" d="M0,0 C4,9 10,18 17,30 C22,38.5 25.1,44 25.1,50.7 A25.1,25.1 0 0 1 -25.1,50.7 C-25.1,44 -22,38.5 -17,30 C-10,18 -4,9 0,0 Z" fill="#2d9cdb"/>
<text x="300.45" y="1972.6" font-size="17.5" fill="#fff" text-anchor="middle" letter-spacing="0.1">8%</text>
<text transform="translate(299.25,2009.3) scale(0.88,1)" font-size="13" fill="#015b9e" text-anchor="middle">MAJ</text>
<path transform="translate(359.25,1915)" d="M0,0 C4,9 10,18 17,30 C22,38.5 25.1,44 25.1,50.7 A25.1,25.1 0 0 1 -25.1,50.7 C-25.1,44 -22,38.5 -17,30 C-10,18 -4,9 0,0 Z" fill="#eef7fe"/>
<text x="358.95" y="1972.6" font-size="17.5" fill="#015b9e" text-anchor="middle" letter-spacing="0.1">2%</text>
<text transform="translate(357.75,2009.3) scale(0.88,1)" font-size="13" fill="#015b9e" text-anchor="middle">CZE</text>
<path transform="translate(417.75,1915)" d="M0,0 C4,9 10,18 17,30 C22,38.5 25.1,44 25.1,50.7 A25.1,25.1 0 0 1 -25.1,50.7 C-25.1,44 -22,38.5 -17,30 C-10,18 -4,9 0,0 Z" fill="#eef7fe"/>
<text x="417.45" y="1972.6" font-size="17.5" fill="#015b9e" text-anchor="middle" letter-spacing="0.1">0%</text>
<text transform="translate(416.25,2009.3) scale(0.88,1)" font-size="13" fill="#015b9e" text-anchor="middle">LIP</text>
<path transform="translate(476.25,1915)" d="M0,0 C4,9 10,18 17,30 C22,38.5 25.1,44 25.1,50.7 A25.1,25.1 0 0 1 -25.1,50.7 C-25.1,44 -22,38.5 -17,30 C-10,18 -4,9 0,0 Z" fill="#eef7fe"/>
<text x="475.95" y="1972.6" font-size="17.5" fill="#015b9e" text-anchor="middle" letter-spacing="0.1">0%</text>
<text transform="translate(474.75,2009.3) scale(0.88,1)" font-size="13" fill="#015b9e" text-anchor="middle">SIE</text>
<path transform="translate(534.75,1915)" d="M0,0 C4,9 10,18 17,30 C22,38.5 25.1,44 25.1,50.7 A25.1,25.1 0 0 1 -25.1,50.7 C-25.1,44 -22,38.5 -17,30 C-10,18 -4,9 0,0 Z" fill="#eef7fe"/>
<text x="534.45" y="1972.6" font-size="17.5" fill="#015b9e" text-anchor="middle" letter-spacing="0.1">2%</text>
<text transform="translate(533.25,2009.3) scale(0.88,1)" font-size="13" fill="#015b9e" text-anchor="middle">WRZ</text>
<path transform="translate(593.25,1915)" d="M0,0 C4,9 10,18 17,30 C22,38.5 25.1,44 25.1,50.7 A25.1,25.1 0 0 1 -25.1,50.7 C-25.1,44 -22,38.5 -17,30 C-10,18 -4,9 0,0 Z" fill="#2d9cdb"/>
<text x="592.95" y="1972.6" font-size="17.5" fill="#fff" text-anchor="middle" letter-spacing="0.1">9%</text>
<text transform="translate(591.75,2009.3) scale(0.88,1)" font-size="13" fill="#015b9e" text-anchor="middle">PAŹ</text>
<path transform="translate(651.75,1915)" d="M0,0 C4,9 10,18 17,30 C22,38.5 25.1,44 25.1,50.7 A25.1,25.1 0 0 1 -25.1,50.7 C-25.1,44 -22,38.5 -17,30 C-10,18 -4,9 0,0 Z" fill="#2d9cdb"/>
<text x="651.45" y="1972.6" font-size="17.5" fill="#fff" text-anchor="middle" letter-spacing="0.1">15%</text>
<text transform="translate(650.25,2009.3) scale(0.88,1)" font-size="13" fill="#015b9e" text-anchor="middle">LIS</text>
<path transform="translate(710.25,1915)" d="M0,0 C4,9 10,18 17,30 C22,38.5 25.1,44 25.1,50.7 A25.1,25.1 0 0 1 -25.1,50.7 C-25.1,44 -22,38.5 -17,30 C-10,18 -4,9 0,0 Z" fill="#2d9cdb"/>
<text x="709.95" y="1972.6" font-size="17.5" fill="#fff" text-anchor="middle" letter-spacing="0.1">22%</text>
<text transform="translate(708.75,2009.3) scale(0.88,1)" font-size="13" fill="#015b9e" text-anchor="middle">GRU</text>
</svg>
<svg width="1200" height="2140" viewBox="0 0 1200 2140" fill="none" stroke="#b0dcff">
<g stroke-width="3">
<circle cx="58" cy="2111.5" r="16.7"/>
<circle cx="106.5" cy="2111.5" r="16.7"/>
<circle cx="154.8" cy="2111.5" r="16.7"/>
</g>
<g font-family="Liberation Sans, sans-serif" font-weight="bold" font-size="14.5" fill="#b0dcff" stroke="none" text-anchor="middle"><text x="58" y="2116.6" letter-spacing="-0.5">CC</text></g>
<g fill="#b0dcff" stroke="none">
<circle cx="106.5" cy="2101.8" r="2.6"/>
<path d="M101.7,2105.6 h9.6 v9 h-2.3 v9.3 h-5 v-9.3 h-2.3 z"/>
<rect x="148" y="2106.3" width="13.6" height="3.2"/>
<rect x="148" y="2113" width="13.6" height="3.2"/>
</g>
</svg>

<div class="abs" style="left:786.30px;top:800.75px;width:3.6px;height:3.6px;border-radius:50%;background:#0a5fa1"></div><div class="abs" style="left:786.30px;top:871.60px;width:3.6px;height:3.6px;border-radius:50%;background:#0a5fa1"></div><div class="abs" style="left:786.30px;top:943.20px;width:3.6px;height:3.6px;border-radius:50%;background:#0a5fa1"></div><div class="abs" style="left:786.30px;top:1933.40px;width:3.6px;height:3.6px;border-radius:50%;background:#0a5fa1"></div><div class="abs" style="left:786.30px;top:1962.70px;width:3.6px;height:3.6px;border-radius:50%;background:#0a5fa1"></div>
<svg width="1200" height="2140" viewBox="0 0 1200 2140" font-family="Liberation Sans, sans-serif">
<text transform="translate(1154.9,235.80) rotate(90) scale(0.9274,1)" font-size="20" font-weight="bold" fill="#015b9e" letter-spacing="0.000">37° 4' 12&quot; N — 25° 21' 22&quot; E</text>
<text transform="translate(1137.8,236.40) rotate(90) scale(0.8684,1)" font-size="13" font-weight="normal" fill="#0a5fa1" letter-spacing="0.000">WYSPY EGEJSKIE</text>
</svg>
<div class="t" style="left:413.13px;top:33.98px;font-size:65px;color:#fff;font-weight:bold;transform:scaleX(0.9327);transform-origin:0 0;">AGÍA</div>
<div class="t" style="left:586.30px;top:33.98px;font-size:65px;color:#fff;letter-spacing:2.567px;font-weight:bold;">ÁNNA</div>
<div class="t" style="left:565.87px;top:114.92px;font-size:19px;color:#fff;transform:scaleX(0.8329);transform-origin:0 0;">GRECJA</div>
<div class="t" style="left:125.64px;top:205.20px;font-size:30px;color:#015b9e;font-weight:bold;transform:scaleX(0.9282);transform-origin:0 0;">NAJCIEPLEJ</div>
<div class="t" style="left:307.50px;top:205.20px;font-size:30px;color:#015b9e;font-weight:bold;">W</div>
<div class="t" style="left:347.20px;top:205.20px;font-size:30px;color:#015b9e;letter-spacing:0.775px;font-weight:bold;">LIPCU</div>
<div class="t" style="left:215.20px;top:253.36px;font-size:18px;color:#0a5fa1;letter-spacing:0.708px;">Lipiec jest najcieplejszym miesiącem w</div>
<div class="t" style="left:215.20px;top:276.56px;font-size:18px;color:#0a5fa1;letter-spacing:0.668px;">miejscowości Agía Ánna, podczas którego</div>
<div class="t" style="left:215.20px;top:300.16px;font-size:18px;color:#0a5fa1;letter-spacing:0.968px;">średnie temperatury maksymalne dochodzą</div>
<div class="t" style="left:215.20px;top:323.56px;font-size:18px;color:#0a5fa1;letter-spacing:0.641px;">do 27°C, a minimalne osiągają 24°C.</div>
<div class="t" style="left:125.50px;top:395.61px;font-size:30px;color:#015b9e;letter-spacing:0.089px;font-weight:bold;">NAJZIMNIEJ</div>
<div class="t" style="left:315.80px;top:395.61px;font-size:30px;color:#015b9e;font-weight:bold;">W</div>
<div class="t" style="left:355.70px;top:395.61px;font-size:30px;color:#015b9e;letter-spacing:0.643px;font-weight:bold;">STYCZNIU</div>
<div class="t" style="left:215.20px;top:446.96px;font-size:18px;color:#0a5fa1;letter-spacing:0.945px;">Natomiast najzimniejszym miesiącem w roku</div>
<div class="t" style="left:217.20px;top:470.26px;font-size:18px;color:#0a5fa1;letter-spacing:0.863px;">jest styczeń, z maksymalnymi temperaturami</div>
<div class="t" style="left:215.20px;top:493.76px;font-size:18px;color:#0a5fa1;letter-spacing:0.897px;">na poziomie 14°C oraz minimami w</div>
<div class="t" style="left:215.20px;top:517.16px;font-size:18px;color:#0a5fa1;letter-spacing:0.557px;">okolicach 12°C.</div>
<div class="t" style="left:447.00px;top:626.55px;font-size:42px;color:#015b9e;font-weight:bold;transform:scaleX(0.9528);transform-origin:0 0;">TEMPERATURA</div>
<div class="t" style="left:526.02px;top:1382.45px;font-size:42px;color:#015b9e;font-weight:bold;transform:scaleX(0.9896);transform-origin:0 0;">OPADY</div>
<div class="t" style="left:784.50px;top:748.26px;font-size:18px;color:#015b9e;letter-spacing:0.083px;font-weight:bold;">ŚREDNIA</div>
<div class="t" style="left:871.70px;top:748.26px;font-size:18px;color:#015b9e;letter-spacing:0.410px;font-weight:bold;">ROCZNA</div>
<div class="t" style="left:956.70px;top:748.26px;font-size:18px;color:#015b9e;letter-spacing:0.160px;font-weight:bold;">TEMPERATURA</div>
<div class="t" style="left:796.00px;top:793.51px;font-size:18px;color:#0a5fa1;letter-spacing:0.812px;">Średnia maksymalna roczna</div>
<div class="t" style="left:785.50px;top:816.76px;font-size:18px;color:#0a5fa1;letter-spacing:0.958px;">temperatura wynosi 20.2°C</div>
<div class="t" style="left:796.00px;top:864.36px;font-size:18px;color:#0a5fa1;letter-spacing:1.014px;">Średnia minimalna roczna temperatura</div>
<div class="t" style="left:784.50px;top:887.96px;font-size:18px;color:#0a5fa1;letter-spacing:0.432px;">sięga 17.8°C</div>
<div class="t" style="left:796.00px;top:935.96px;font-size:18px;color:#0a5fa1;letter-spacing:1.125px;">Uśredniona dobowa temperatura dla</div>
<div class="t" style="left:784.50px;top:959.76px;font-size:18px;color:#0a5fa1;letter-spacing:0.770px;">całego roku kształtuje się na poziomie</div>
<div class="t" style="left:784.50px;top:983.56px;font-size:18px;color:#0a5fa1;letter-spacing:0.667px;">19°C</div>
<div class="t" style="left:463.75px;top:1136.47px;font-size:21px;color:#015b9e;letter-spacing:0.050px;font-weight:bold;">TEMPERATURA</div>
<div class="t" style="left:634.00px;top:1136.47px;font-size:21px;color:#015b9e;letter-spacing:0.500px;font-weight:bold;">DOBOWA</div>
<div class="t" style="left:784.50px;top:1508.01px;font-size:18px;color:#0a5fa1;letter-spacing:0.889px;">Średnia roczna suma opadów w</div>
<div class="t" style="left:784.50px;top:1531.65px;font-size:18px;color:#0a5fa1;letter-spacing:0.735px;">miejscowości Agía Ánna to około 380</div>
<div class="t" style="left:784.50px;top:1555.29px;font-size:18px;color:#0a5fa1;letter-spacing:0.800px;">mm. Różnica pomiędzy najwyższymi</div>
<div class="t" style="left:784.50px;top:1578.93px;font-size:18px;color:#0a5fa1;letter-spacing:0.641px;">opadami (styczeń) i najniższymi (lipiec)</div>
<div class="t" style="left:785.50px;top:1602.57px;font-size:18px;color:#0a5fa1;letter-spacing:0.938px;">wynosi 80 mm.</div>
<div class="t" style="left:784.50px;top:1649.85px;font-size:18px;color:#0a5fa1;letter-spacing:0.853px;">Najwięcej opadów pojawia się w</div>
<div class="t" style="left:784.50px;top:1673.49px;font-size:18px;color:#0a5fa1;letter-spacing:0.737px;">styczniu, w tym okresie miesięczna suma</div>
<div class="t" style="left:784.50px;top:1697.13px;font-size:18px;color:#0a5fa1;letter-spacing:0.890px;">opadów oscyluje wokół 81 mm, a</div>
<div class="t" style="left:784.50px;top:1720.77px;font-size:18px;color:#0a5fa1;letter-spacing:1.055px;">prawdopodobieństwo ich wystąpienia</div>
<div class="t" style="left:785.50px;top:1744.41px;font-size:18px;color:#0a5fa1;letter-spacing:0.929px;">wynosi około 27%. Natomiast najmniej</div>
<div class="t" style="left:784.50px;top:1768.05px;font-size:18px;color:#0a5fa1;letter-spacing:0.822px;">opadów notuje się w lipcu - średnio 0.8</div>
<div class="t" style="left:784.50px;top:1791.69px;font-size:18px;color:#0a5fa1;letter-spacing:0.833px;">mm, a szanse na wystąpienie opadów</div>
<div class="t" style="left:785.50px;top:1815.33px;font-size:18px;color:#0a5fa1;letter-spacing:0.530px;">wynoszą 0%.</div>
<div class="t" style="left:784.72px;top:1893.16px;font-size:18px;color:#015b9e;font-weight:bold;transform:scaleX(0.9773);transform-origin:0 0;">ROCZNE</div>
<div class="t" style="left:866.00px;top:1893.16px;font-size:18px;color:#015b9e;letter-spacing:0.625px;font-weight:bold;">OPADY</div>
<div class="t" style="left:938.60px;top:1893.16px;font-size:18px;color:#015b9e;letter-spacing:0.040px;font-weight:bold;">WEDŁUG</div>
<div class="t" style="left:1024.80px;top:1893.16px;font-size:18px;color:#015b9e;font-weight:bold;transform:scaleX(0.9745);transform-origin:0 0;">TYPU</div>
<div class="t" style="left:796.00px;top:1926.16px;font-size:18px;color:#0a5fa1;letter-spacing:0.273px;">Deszcz: 100%</div>
<div class="t" style="left:796.00px;top:1955.46px;font-size:18px;color:#0a5fa1;letter-spacing:0.250px;">Śnieg: 0%</div>
<div class="t" style="left:982.65px;top:2100.98px;font-size:22px;color:#fff;font-weight:bold;transform:scaleX(0.9508);transform-origin:0 0;">METEOATLAS.PL</div>
<div class="t" style="left:184.73px;top:2104.30px;font-size:15px;color:#b0dcff;letter-spacing:0.045px;font-weight:bold;transform:scaleX(1.1700);transform-origin:0 0;">CC BY-ND 4.0</div>
<div class="t" style="left:318.61px;top:1878.76px;font-size:16.7px;color:#fff;font-weight:bold;transform:scaleX(0.8925);transform-origin:0 0;">SZANSA</div>
<div class="t" style="left:384.83px;top:1878.76px;font-size:16.7px;color:#fff;font-weight:bold;transform:scaleX(0.9720);transform-origin:0 0;">OPADÓW</div>
</div>
</body></html>
